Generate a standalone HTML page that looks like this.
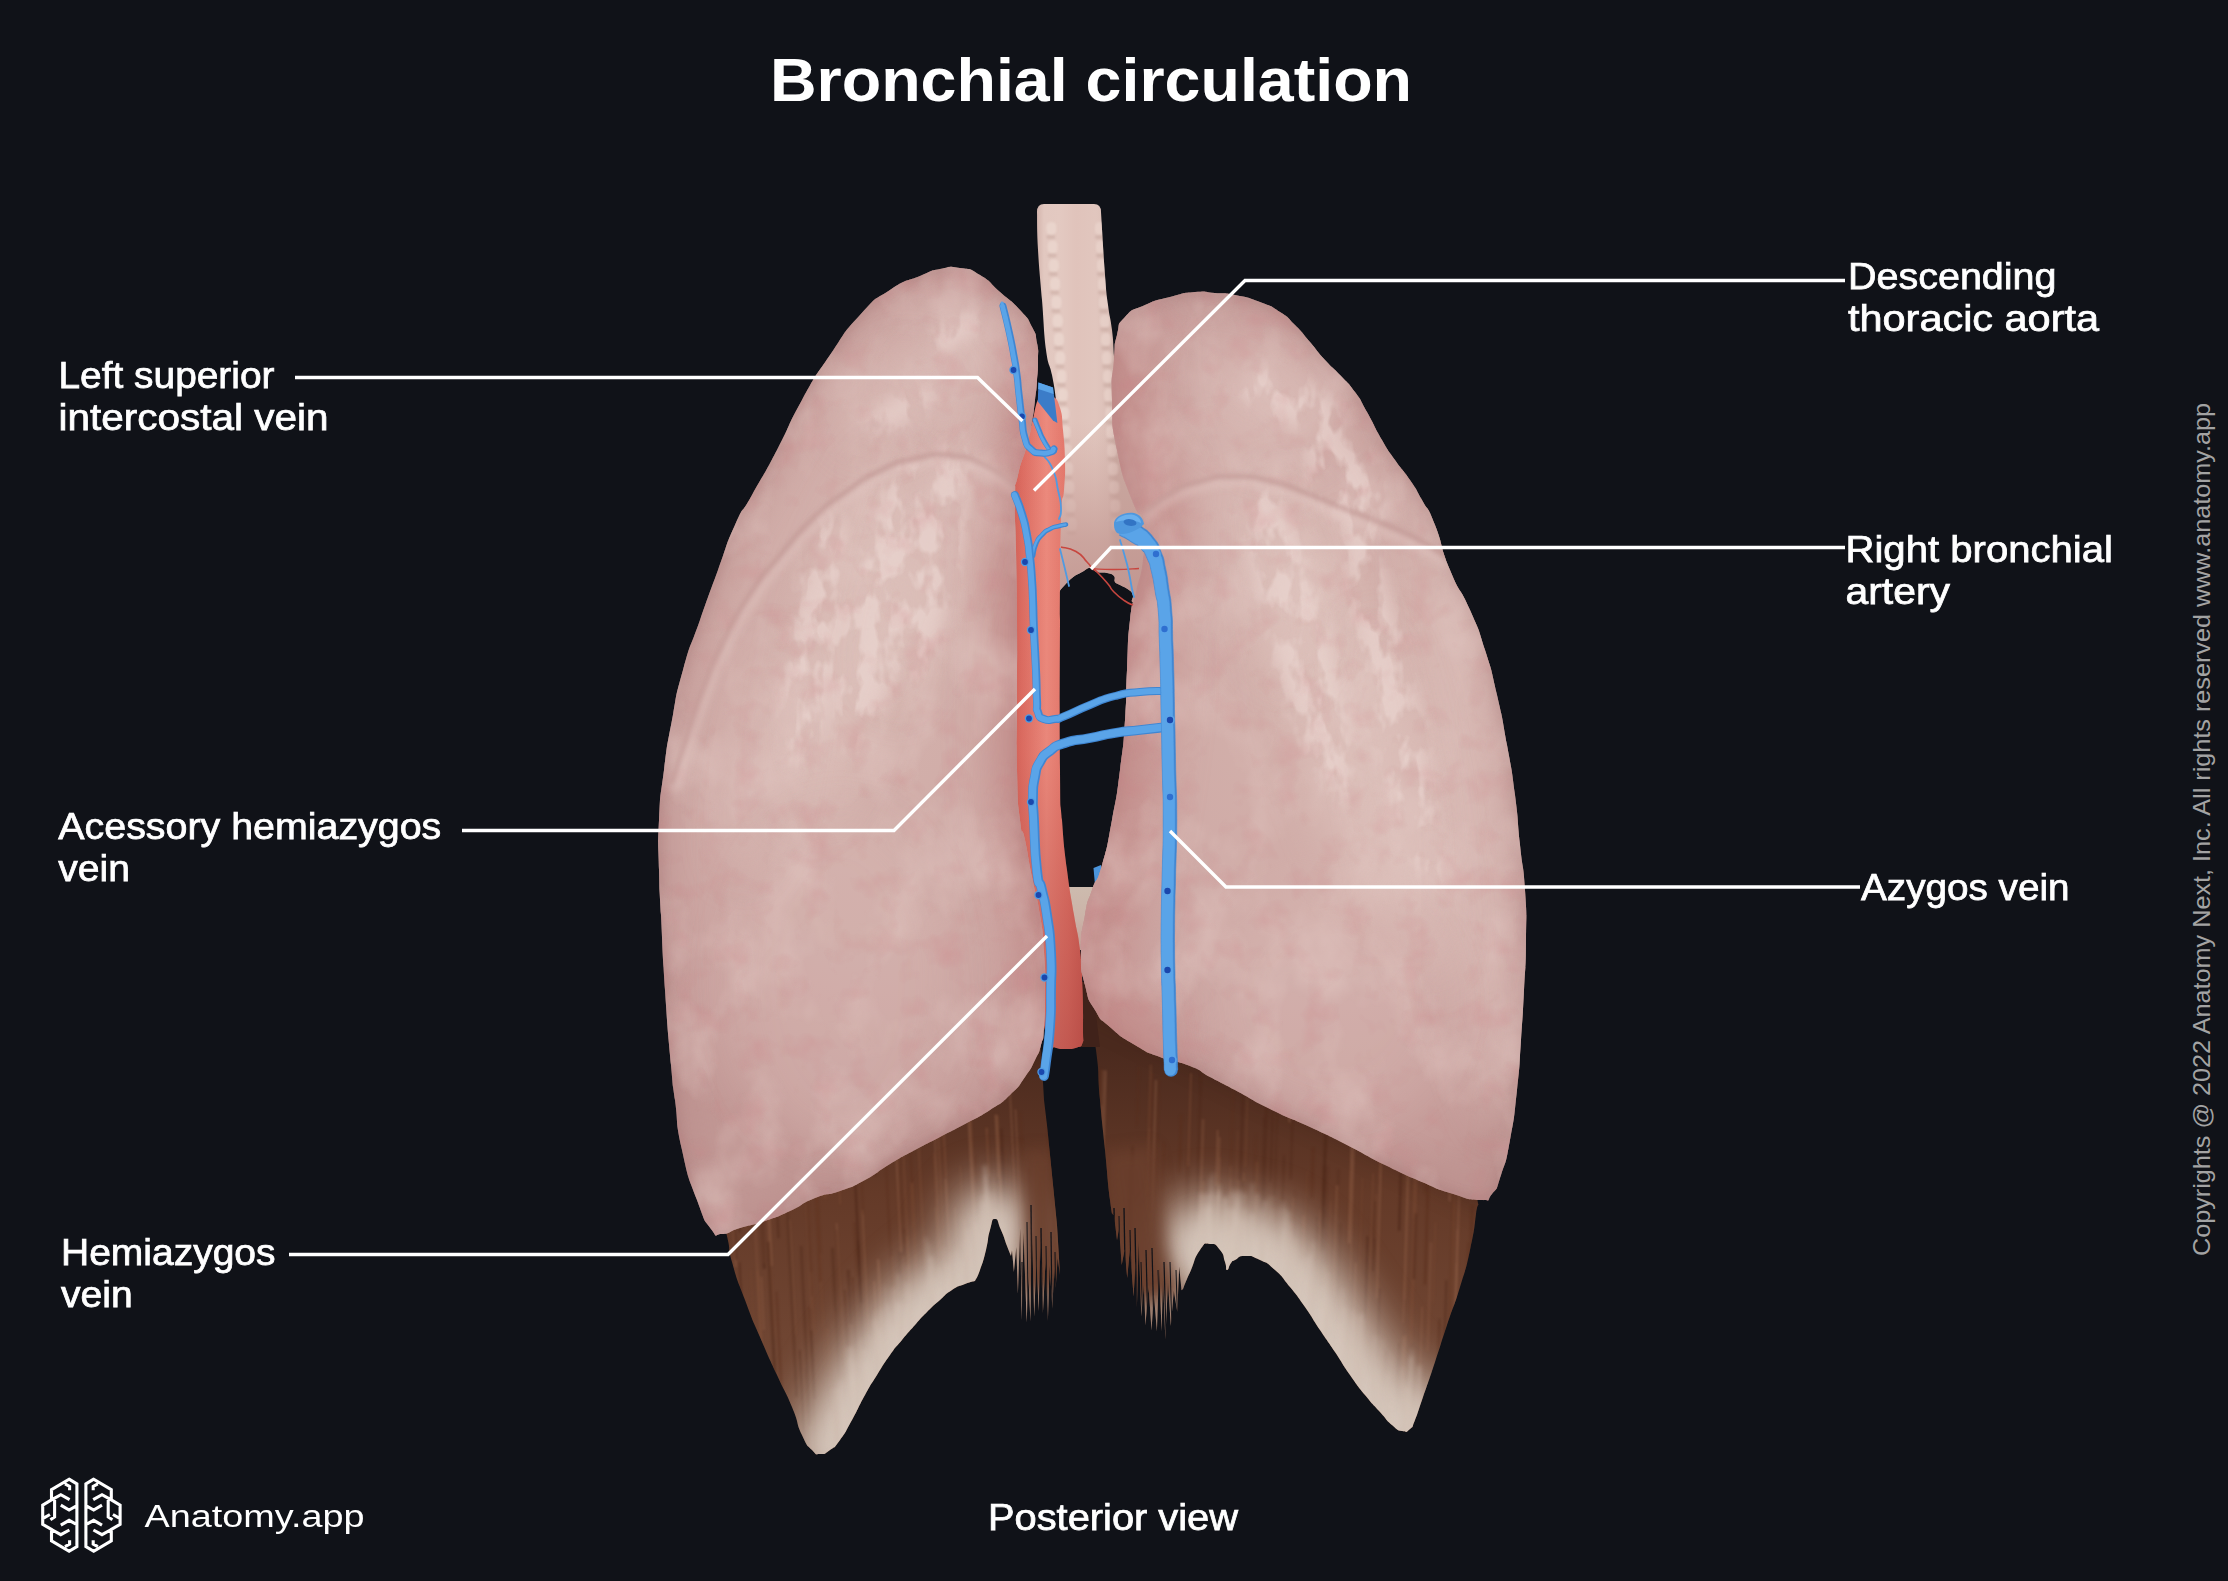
<!DOCTYPE html>
<html lang="en"><head><meta charset="utf-8"><title>Bronchial circulation</title>
<style>
html,body{margin:0;padding:0;background:#101218;}
body{width:2228px;height:1581px;position:relative;overflow:hidden;font-family:"Liberation Sans",sans-serif;}
</style></head><body>
<svg width="2228" height="1581" viewBox="0 0 2228 1581" style="position:absolute;left:0;top:0">
<defs>
<filter id="b4" filterUnits="userSpaceOnUse" x="500" y="100" width="1200" height="1450"><feGaussianBlur color-interpolation-filters="sRGB" stdDeviation="4"/></filter>
<filter id="b8" filterUnits="userSpaceOnUse" x="500" y="100" width="1200" height="1450"><feGaussianBlur color-interpolation-filters="sRGB" stdDeviation="8"/></filter>
<filter id="b14" filterUnits="userSpaceOnUse" x="500" y="100" width="1200" height="1450"><feGaussianBlur color-interpolation-filters="sRGB" stdDeviation="14"/></filter>
<filter id="b22" filterUnits="userSpaceOnUse" x="500" y="100" width="1200" height="1450"><feGaussianBlur color-interpolation-filters="sRGB" stdDeviation="22"/></filter>
<filter id="b40" filterUnits="userSpaceOnUse" x="500" y="100" width="1200" height="1450"><feGaussianBlur color-interpolation-filters="sRGB" stdDeviation="40"/></filter>
<filter id="b2" filterUnits="userSpaceOnUse" x="500" y="100" width="1200" height="1450"><feGaussianBlur color-interpolation-filters="sRGB" stdDeviation="2"/></filter>
<filter id="b1" filterUnits="userSpaceOnUse" x="500" y="100" width="1200" height="1450"><feGaussianBlur color-interpolation-filters="sRGB" stdDeviation="1.2"/></filter>
<filter id="texL" filterUnits="userSpaceOnUse" x="640" y="250" width="900" height="1000" color-interpolation-filters="sRGB">
 <feTurbulence type="fractalNoise" baseFrequency="0.016 0.011" numOctaves="4" seed="11"/>
 <feColorMatrix values="0 0 0 0 0.89  0 0 0 0 0.79  0 0 0 0 0.77  2.6 0 0 0 -1.15"/>
</filter>
<filter id="texR" filterUnits="userSpaceOnUse" x="640" y="250" width="900" height="1000" color-interpolation-filters="sRGB">
 <feTurbulence type="fractalNoise" baseFrequency="0.03 0.03" numOctaves="3" seed="5"/>
 <feColorMatrix values="0 0 0 0 0.80  0 0 0 0 0.50  0 0 0 0 0.52  0 2.4 0 0 -1.25"/>
</filter>
<filter id="spec" filterUnits="userSpaceOnUse" x="640" y="250" width="900" height="1000" color-interpolation-filters="sRGB">
 <feGaussianBlur in="SourceGraphic" stdDeviation="9" result="B"/>
 <feTurbulence type="fractalNoise" baseFrequency="0.05 0.028" numOctaves="3" seed="23" result="T"/>
 <feColorMatrix in="T" values="0 0 0 0 1  0 0 0 0 1  0 0 0 0 1  5.5 0 0 0 -2.35" result="M"/>
 <feComposite in="B" in2="M" operator="in"/>
</filter>
<linearGradient id="gEso" x1="0" x2="0" y1="887" y2="950" gradientUnits="userSpaceOnUse">
 <stop offset="0" stop-color="#cdbbae"/><stop offset="0.5" stop-color="#cbb3a8"/><stop offset="1" stop-color="#c39d96"/>
</linearGradient>
<linearGradient id="gAoV" x1="0" x2="0" y1="396" y2="1047" gradientUnits="userSpaceOnUse">
 <stop offset="0" stop-color="#b24a44" stop-opacity="0"/><stop offset="0.55" stop-color="#b24a44" stop-opacity="0.05"/><stop offset="0.8" stop-color="#b24a44" stop-opacity="0.4"/><stop offset="1" stop-color="#a8423d" stop-opacity="0.55"/>
</linearGradient>
<linearGradient id="gAorta" x1="1006" x2="1084" y1="0" y2="0" gradientUnits="userSpaceOnUse">
 <stop offset="0" stop-color="#c9584f"/><stop offset="0.2" stop-color="#dc6c61"/><stop offset="0.52" stop-color="#ec8a7d"/><stop offset="0.8" stop-color="#e27468"/><stop offset="1" stop-color="#cf5d54"/>
</linearGradient>
<linearGradient id="gTr" x1="1036" x2="1116" y1="0" y2="0" gradientUnits="userSpaceOnUse">
 <stop offset="0" stop-color="#d2b2aa"/><stop offset="0.1" stop-color="#e2c8c0"/><stop offset="0.3" stop-color="#e3c9c1"/><stop offset="0.5" stop-color="#e0c3bb"/><stop offset="0.75" stop-color="#e1c6be"/><stop offset="0.9" stop-color="#dcc0b8"/><stop offset="1" stop-color="#c8a8a0"/>
</linearGradient>
<linearGradient id="gTrV" x1="0" x2="0" y1="204" y2="600" gradientUnits="userSpaceOnUse">
 <stop offset="0" stop-color="#c9a29b" stop-opacity="0"/><stop offset="0.55" stop-color="#c9a29b" stop-opacity="0"/><stop offset="0.85" stop-color="#c49a94" stop-opacity="0.75"/><stop offset="1" stop-color="#c0948e" stop-opacity="0.9"/>
</linearGradient>
<linearGradient id="gDia" x1="0" x2="0" y1="1050" y2="1460" gradientUnits="userSpaceOnUse">
 <stop offset="0" stop-color="#4b2a1e"/><stop offset="0.35" stop-color="#643a28"/><stop offset="0.7" stop-color="#6f4532"/><stop offset="1" stop-color="#77503d"/>
</linearGradient>
<radialGradient id="gLL" cx="870" cy="640" r="540" gradientUnits="userSpaceOnUse" gradientTransform="translate(870,640) scale(0.62,1) translate(-870,-640)">
 <stop offset="0" stop-color="#d4b3ad"/><stop offset="0.55" stop-color="#cfaaa6"/><stop offset="0.85" stop-color="#c9a19e"/><stop offset="1" stop-color="#c19794"/>
</radialGradient>
<radialGradient id="gRL" cx="1320" cy="660" r="540" gradientUnits="userSpaceOnUse" gradientTransform="translate(1320,660) scale(0.66,1) translate(-1320,-660)">
 <stop offset="0" stop-color="#d4b3ad"/><stop offset="0.55" stop-color="#cfaaa6"/><stop offset="0.85" stop-color="#c9a19e"/><stop offset="1" stop-color="#c19794"/>
</radialGradient>

<clipPath id="cLL"><path d="M940.0,269.0C953.3,266.3 946.7,266.0 960.0,268.0C973.3,270.0 966.7,267.0 980.0,275.0C993.3,283.0 986.7,280.3 1000.0,292.0C1013.3,303.7 1009.3,298.3 1020.0,310.0C1030.7,321.7 1026.3,316.0 1032.0,327.0C1037.7,338.0 1035.0,332.0 1037.0,343.0C1039.0,354.0 1038.0,347.3 1038.0,360.0C1038.0,372.7 1038.0,367.7 1037.0,381.0C1036.0,394.3 1036.7,386.3 1035.0,400.0C1033.3,413.7 1034.7,407.0 1032.0,422.0C1029.3,437.0 1031.7,427.3 1027.0,445.0C1022.3,462.7 1022.0,456.7 1018.0,475.0C1014.0,493.3 1015.7,475.0 1015.0,500.0C1014.3,525.0 1015.3,510.0 1016.0,550.0C1016.7,590.0 1016.7,570.0 1017.0,620.0C1017.3,670.0 1017.0,650.0 1017.0,700.0C1017.0,750.0 1016.0,730.0 1017.0,770.0C1018.0,810.0 1017.3,796.7 1020.0,820.0C1022.7,843.3 1021.0,821.0 1025.0,840.0C1029.0,859.0 1027.0,852.0 1032.0,877.0C1037.0,902.0 1036.0,890.0 1040.0,915.0C1044.0,940.0 1042.3,927.0 1044.0,952.0C1045.7,977.0 1045.0,965.0 1045.0,990.0C1045.0,1015.0 1045.3,1008.7 1044.0,1027.0C1042.7,1045.3 1044.0,1034.0 1041.0,1045.0C1038.0,1056.0 1040.3,1049.3 1035.0,1060.0C1029.7,1070.7 1033.3,1065.3 1025.0,1077.0C1016.7,1088.7 1021.7,1084.0 1010.0,1095.0C998.3,1106.0 1005.0,1100.3 990.0,1110.0C975.0,1119.7 981.7,1115.0 965.0,1124.0C948.3,1133.0 956.7,1128.3 940.0,1137.0C923.3,1145.7 931.7,1141.0 915.0,1150.0C898.3,1159.0 906.7,1154.0 890.0,1164.0C873.3,1174.0 881.7,1171.0 865.0,1180.0C848.3,1189.0 856.7,1185.0 840.0,1191.0C823.3,1197.0 831.7,1191.3 815.0,1198.0C798.3,1204.7 806.7,1203.3 790.0,1211.0C773.3,1218.7 781.7,1215.3 765.0,1221.0C748.3,1226.7 754.3,1223.7 740.0,1228.0C725.7,1232.3 731.7,1233.7 722.0,1234.0C712.3,1234.3 719.3,1240.3 711.0,1229.0C702.7,1217.7 706.7,1226.3 697.0,1200.0C687.3,1173.7 689.3,1183.3 682.0,1150.0C674.7,1116.7 678.7,1128.3 675.0,1100.0C671.3,1071.7 674.3,1101.7 671.0,1065.0C667.7,1028.3 668.3,1040.0 665.0,990.0C661.7,940.0 663.0,955.0 661.0,915.0C659.0,875.0 659.7,901.7 659.0,870.0C658.3,838.3 657.3,853.3 659.0,820.0C660.7,786.7 659.7,803.3 664.0,770.0C668.3,736.7 665.7,753.3 672.0,720.0C678.3,686.7 673.7,703.3 683.0,670.0C692.3,636.7 688.3,653.3 700.0,620.0C711.7,586.7 706.3,601.7 718.0,570.0C729.7,538.3 723.7,550.0 735.0,525.0C746.3,500.0 738.0,520.0 752.0,495.0C766.0,470.0 760.3,481.7 777.0,450.0C793.7,418.3 784.3,431.7 802.0,400.0C819.7,368.3 810.7,383.3 830.0,355.0C849.3,326.7 840.0,336.7 860.0,315.0C880.0,293.3 870.0,303.0 890.0,290.0C910.0,277.0 903.3,283.0 920.0,276.0C936.7,269.0 926.7,271.7 940.0,269.0Z"/></clipPath>
<clipPath id="cRL"><path d="M1117.0,335.0C1120.7,320.7 1115.7,327.0 1125.0,317.0C1134.3,307.0 1130.0,311.7 1145.0,305.0C1160.0,298.3 1153.3,301.3 1170.0,297.0C1186.7,292.7 1180.0,293.3 1195.0,292.0C1210.0,290.7 1201.7,292.0 1215.0,293.0C1228.3,294.0 1220.0,292.0 1235.0,295.0C1250.0,298.0 1245.0,296.3 1260.0,302.0C1275.0,307.7 1268.3,304.3 1280.0,312.0C1291.7,319.7 1285.0,315.0 1295.0,325.0C1305.0,335.0 1300.0,330.3 1310.0,342.0C1320.0,353.7 1315.0,349.0 1325.0,360.0C1335.0,371.0 1330.0,364.3 1340.0,375.0C1350.0,385.7 1346.0,379.7 1355.0,392.0C1364.0,404.3 1358.0,396.0 1367.0,412.0C1376.0,428.0 1372.7,424.0 1382.0,440.0C1391.3,456.0 1385.7,446.7 1395.0,460.0C1404.3,473.3 1401.0,466.7 1410.0,480.0C1419.0,493.3 1413.7,485.0 1422.0,500.0C1430.3,515.0 1425.7,501.7 1435.0,525.0C1444.3,548.3 1438.3,541.7 1450.0,570.0C1461.7,598.3 1458.3,583.3 1470.0,610.0C1481.7,636.7 1476.0,621.7 1485.0,650.0C1494.0,678.3 1489.7,663.3 1497.0,695.0C1504.3,726.7 1501.0,711.7 1507.0,745.0C1513.0,778.3 1510.7,761.7 1515.0,795.0C1519.3,828.3 1516.7,813.3 1520.0,845.0C1523.3,876.7 1523.0,858.3 1525.0,890.0C1527.0,921.7 1526.3,906.7 1526.0,940.0C1525.7,973.3 1525.7,956.7 1524.0,990.0C1522.3,1023.3 1523.3,1006.7 1521.0,1040.0C1518.7,1073.3 1520.7,1056.7 1517.0,1090.0C1513.3,1123.3 1515.3,1111.7 1510.0,1140.0C1504.7,1168.3 1507.0,1157.0 1501.0,1175.0C1495.0,1193.0 1499.0,1185.7 1492.0,1194.0C1485.0,1202.3 1494.0,1200.3 1480.0,1200.0C1466.0,1199.7 1469.3,1199.0 1450.0,1193.0C1430.7,1187.0 1443.7,1191.3 1422.0,1182.0C1400.3,1172.7 1410.0,1177.3 1385.0,1165.0C1360.0,1152.7 1372.0,1157.7 1347.0,1145.0C1322.0,1132.3 1335.0,1138.7 1310.0,1127.0C1285.0,1115.3 1297.0,1122.3 1272.0,1110.0C1247.0,1097.7 1255.7,1101.0 1235.0,1090.0C1214.3,1079.0 1225.0,1085.0 1210.0,1077.0C1195.0,1069.0 1206.7,1072.7 1190.0,1066.0C1173.3,1059.3 1178.3,1064.0 1160.0,1057.0C1141.7,1050.0 1151.7,1055.0 1135.0,1045.0C1118.3,1035.0 1123.3,1038.7 1110.0,1027.0C1096.7,1015.3 1103.3,1024.0 1095.0,1010.0C1086.7,996.0 1089.7,1004.3 1085.0,985.0C1080.3,965.7 1081.0,975.3 1081.0,952.0C1081.0,928.7 1081.3,935.7 1085.0,915.0C1088.7,894.3 1086.3,906.7 1092.0,890.0C1097.7,873.3 1095.3,888.3 1102.0,865.0C1108.7,841.7 1106.0,851.7 1112.0,820.0C1118.0,788.3 1115.7,803.3 1120.0,770.0C1124.3,736.7 1122.7,753.3 1125.0,720.0C1127.3,686.7 1125.3,703.3 1127.0,670.0C1128.7,636.7 1127.0,646.0 1130.0,620.0C1133.0,594.0 1131.7,612.0 1136.0,592.0C1140.3,572.0 1140.0,582.3 1143.0,560.0C1146.0,537.7 1148.7,545.0 1145.0,525.0C1141.3,505.0 1141.3,525.0 1132.0,500.0C1122.7,475.0 1123.7,483.3 1117.0,450.0C1110.3,416.7 1113.0,430.0 1112.0,400.0C1111.0,370.0 1112.3,381.7 1114.0,360.0C1115.7,338.3 1113.3,349.3 1117.0,335.0Z"/></clipPath>
<clipPath id="cLD"><path d="M712.0,1180.0C716.7,1197.3 719.3,1204.7 726.0,1232.0C732.7,1259.3 725.7,1239.3 732.0,1262.0C738.3,1284.7 735.7,1275.0 745.0,1300.0C754.3,1325.0 749.3,1312.0 760.0,1337.0C770.7,1362.0 766.3,1351.7 777.0,1375.0C787.7,1398.3 783.7,1387.0 792.0,1407.0C800.3,1427.0 795.3,1420.7 802.0,1435.0C808.7,1449.3 806.0,1443.7 812.0,1450.0C818.0,1456.3 814.0,1454.0 820.0,1454.0C826.0,1454.0 823.3,1454.7 830.0,1450.0C836.7,1445.3 832.7,1450.0 840.0,1440.0C847.3,1430.0 843.7,1435.0 852.0,1420.0C860.3,1405.0 856.7,1410.0 865.0,1395.0C873.3,1380.0 868.7,1388.3 877.0,1375.0C885.3,1361.7 881.7,1366.7 890.0,1355.0C898.3,1343.3 893.7,1350.0 902.0,1340.0C910.3,1330.0 906.7,1334.3 915.0,1325.0C923.3,1315.7 918.7,1320.3 927.0,1312.0C935.3,1303.7 931.7,1307.3 940.0,1300.0C948.3,1292.7 943.7,1295.3 952.0,1290.0C960.3,1284.7 957.3,1287.0 965.0,1284.0C972.7,1281.0 971.7,1282.0 975.0,1281.0C976.7,1277.3 976.3,1280.3 980.0,1270.0C983.7,1259.7 982.7,1263.3 986.0,1250.0C989.3,1236.7 987.0,1240.3 990.0,1230.0C993.0,1219.7 991.3,1219.0 995.0,1219.0C998.7,1219.0 997.0,1221.0 1001.0,1230.0C1005.0,1239.0 1003.7,1237.3 1007.0,1246.0C1010.3,1254.7 1009.7,1252.7 1011.0,1256.0L1012.0,1250.3L1013.9,1272.1L1016.3,1247.0L1017.9,1294.0L1020.2,1228.3L1021.7,1320.8L1023.5,1232.4L1026.7,1322.6L1028.4,1275.9L1030.4,1321.8L1031.8,1221.2L1034.2,1316.7L1036.4,1259.1L1038.7,1311.2L1040.2,1240.8L1042.9,1313.2L1045.6,1260.2L1047.9,1321.0L1049.6,1264.9L1052.4,1308.8L1054.1,1268.2L1055.7,1288.0L1057.6,1257.9L1060.0,1275.0L1057.0,1225.0L1052.0,1175.0L1047.0,1125.0L1044.0,1100.0L1040.0,1030.0L900.0,1100.0Z"/></clipPath>
<clipPath id="cRD"><path d="M1083.0,975.0C1084.7,986.7 1083.7,985.0 1088.0,1010.0C1092.3,1035.0 1092.0,1020.0 1096.0,1050.0C1100.0,1080.0 1097.0,1066.7 1100.0,1100.0C1103.0,1133.3 1101.7,1116.7 1105.0,1150.0C1108.3,1183.3 1107.3,1178.3 1110.0,1200.0C1112.7,1221.7 1112.0,1210.0 1113.0,1215.0L1114.0,1214.7L1117.0,1240.2L1119.0,1227.9L1121.7,1265.1L1124.7,1249.3L1127.2,1278.1L1129.9,1248.3L1133.6,1296.5L1135.5,1261.4L1136.9,1307.4L1138.7,1240.5L1141.3,1316.4L1143.9,1283.9L1145.4,1325.5L1148.6,1286.8L1151.5,1330.6L1153.9,1295.0L1156.9,1331.6L1159.1,1267.6L1161.6,1331.4L1163.0,1277.1L1165.3,1339.4L1168.0,1282.5L1170.8,1325.9L1173.8,1290.8L1177.3,1312.1L1179.2,1266.5L1181.5,1290.3L1183.0,1289.0C1184.3,1285.7 1184.3,1285.3 1187.0,1279.0C1189.7,1272.7 1186.7,1279.7 1191.0,1270.0C1195.3,1260.3 1193.7,1258.7 1200.0,1250.0C1206.3,1241.3 1203.3,1244.0 1210.0,1244.0C1216.7,1244.0 1215.0,1244.0 1220.0,1250.0C1225.0,1256.0 1222.7,1255.3 1225.0,1262.0C1227.3,1268.7 1225.0,1269.7 1227.0,1270.0C1229.0,1270.3 1228.3,1266.3 1231.0,1263.0C1233.7,1259.7 1230.3,1262.3 1235.0,1260.0C1239.7,1257.7 1236.7,1256.0 1245.0,1256.0C1253.3,1256.0 1250.0,1255.3 1260.0,1260.0C1270.0,1264.7 1265.0,1261.0 1275.0,1270.0C1285.0,1279.0 1280.0,1274.7 1290.0,1287.0C1300.0,1299.3 1295.0,1292.7 1305.0,1307.0C1315.0,1321.3 1310.0,1315.0 1320.0,1330.0C1330.0,1345.0 1325.0,1337.0 1335.0,1352.0C1345.0,1367.0 1340.0,1360.7 1350.0,1375.0C1360.0,1389.3 1355.0,1382.7 1365.0,1395.0C1375.0,1407.3 1371.0,1402.0 1380.0,1412.0C1389.0,1422.0 1384.7,1418.7 1392.0,1425.0C1399.3,1431.3 1396.0,1429.7 1402.0,1431.0C1408.0,1432.3 1405.7,1432.7 1410.0,1429.0C1414.3,1425.3 1411.0,1429.7 1415.0,1420.0C1419.0,1410.3 1415.3,1419.3 1422.0,1400.0C1428.7,1380.7 1426.7,1387.0 1435.0,1362.0C1443.3,1337.0 1438.7,1350.0 1447.0,1325.0C1455.3,1300.0 1452.3,1312.0 1460.0,1287.0C1467.7,1262.0 1464.7,1274.3 1470.0,1250.0C1475.3,1225.7 1473.7,1231.3 1476.0,1214.0C1478.3,1196.7 1479.7,1212.7 1477.0,1198.0C1474.3,1183.3 1527.0,1202.7 1468.0,1170.0C1409.0,1137.3 1406.0,1146.7 1300.0,1100.0C1194.0,1053.3 1200.0,1053.3 1150.0,1030.0Z"/></clipPath>
<clipPath id="cTR"><path d="M1101.0,212.0C1101.9,226.7 1103.4,253.3 1105.0,275.0C1106.6,296.7 1106.4,292.2 1108.0,305.0C1109.6,317.8 1110.6,318.1 1112.0,330.0C1113.4,341.9 1113.1,339.7 1114.0,356.0C1114.9,372.3 1113.4,378.1 1116.0,400.0C1118.6,421.9 1119.4,426.7 1125.0,450.0C1130.6,473.3 1133.0,479.0 1140.0,500.0C1147.0,521.0 1151.5,516.0 1155.0,540.0C1158.5,564.0 1159.9,588.3 1155.0,603.0C1150.1,617.7 1139.1,604.9 1134.0,603.0C1128.9,601.1 1134.2,598.0 1133.0,595.0C1131.8,592.0 1132.0,592.3 1129.0,590.0C1126.0,587.7 1123.3,586.9 1120.0,585.0C1116.7,583.1 1116.4,584.1 1115.0,582.0C1113.6,579.9 1115.9,578.1 1114.0,576.0C1112.1,573.9 1111.0,573.9 1107.0,573.0C1103.0,572.1 1101.0,573.2 1097.0,572.0C1093.0,570.8 1093.5,568.0 1090.0,568.0C1086.5,568.0 1086.2,569.7 1082.0,572.0C1077.8,574.3 1076.7,574.3 1072.0,578.0C1067.3,581.7 1067.1,582.9 1062.0,588.0C1056.9,593.1 1054.0,606.5 1050.0,600.0C1046.0,593.5 1045.0,578.7 1045.0,560.0C1045.0,541.3 1047.7,537.5 1050.0,520.0C1052.3,502.5 1053.1,501.1 1055.0,485.0C1056.9,468.9 1057.3,465.0 1058.0,451.0C1058.7,437.0 1058.5,436.9 1058.0,425.0C1057.5,413.1 1057.4,411.7 1056.0,400.0C1054.6,388.3 1054.3,386.7 1052.0,375.0C1049.7,363.3 1048.3,367.5 1046.0,350.0C1043.7,332.5 1043.9,323.3 1042.0,300.0C1040.1,276.7 1039.2,270.5 1038.0,250.0C1036.8,229.5 1037.2,220.9 1037.0,212.0Q1037,204 1044,204L1094,204Q1101,204 1101,212Z"/></clipPath>
</defs>
<g clip-path="url(#cLD)">
<rect x="700" y="1000" width="380" height="480" fill="url(#gDia)"/>
<g filter="url(#b1)"><path d="M776.0,1188.6L778.5,1238.1" stroke="#4b2618" stroke-width="2.3" opacity="0.44"/><path d="M1047.4,1268.0L1050.0,1320.6" stroke="#7a4a33" stroke-width="2.4" opacity="0.30"/><path d="M807.0,1190.7L812.3,1296.3" stroke="#4b2618" stroke-width="1.4" opacity="0.42"/><path d="M1057.3,1229.3L1062.2,1325.4" stroke="#7a4a33" stroke-width="1.4" opacity="0.37"/><path d="M811.3,1330.4L814.8,1399.4" stroke="#4b2618" stroke-width="1.6" opacity="0.58"/><path d="M844.8,1290.1L855.0,1494.7" stroke="#5a2f1d" stroke-width="3.2" opacity="0.55"/><path d="M960.2,1165.7L965.5,1271.7" stroke="#7a4a33" stroke-width="1.9" opacity="0.33"/><path d="M906.8,1235.8L914.6,1390.3" stroke="#7a4a33" stroke-width="2.8" opacity="0.54"/><path d="M975.3,1155.8L981.9,1288.9" stroke="#5a2f1d" stroke-width="2.7" opacity="0.60"/><path d="M992.6,1226.9L996.3,1301.8" stroke="#5a2f1d" stroke-width="2.1" opacity="0.58"/><path d="M1060.9,1367.0L1066.2,1472.6" stroke="#7a4a33" stroke-width="1.4" opacity="0.41"/><path d="M836.5,1230.0L847.4,1447.3" stroke="#4b2618" stroke-width="2.2" opacity="0.48"/><path d="M995.9,1114.6L1003.8,1273.5" stroke="#8a5a42" stroke-width="2.8" opacity="0.51"/><path d="M884.9,1141.8L894.0,1323.8" stroke="#5a2f1d" stroke-width="1.4" opacity="0.58"/><path d="M969.0,1224.3L977.7,1398.1" stroke="#4b2618" stroke-width="2.6" opacity="0.31"/><path d="M763.8,1133.8L774.0,1336.7" stroke="#7a4a33" stroke-width="2.4" opacity="0.46"/><path d="M883.7,1361.9L887.1,1429.9" stroke="#7a4a33" stroke-width="1.2" opacity="0.53"/><path d="M970.6,1119.8L979.3,1294.7" stroke="#7a4a33" stroke-width="2.1" opacity="0.56"/><path d="M1005.0,1151.2L1009.3,1236.5" stroke="#5a2f1d" stroke-width="2.2" opacity="0.52"/><path d="M832.5,1247.9L842.0,1438.0" stroke="#4b2618" stroke-width="3.0" opacity="0.37"/><path d="M878.1,1259.2L888.2,1461.9" stroke="#8a5a42" stroke-width="2.9" opacity="0.56"/><path d="M765.1,1134.0L771.7,1265.9" stroke="#8a5a42" stroke-width="2.8" opacity="0.46"/><path d="M987.7,1133.4L991.0,1198.9" stroke="#4b2618" stroke-width="2.3" opacity="0.36"/><path d="M898.8,1251.1L907.9,1432.2" stroke="#4b2618" stroke-width="3.0" opacity="0.27"/><path d="M786.0,1102.2L788.9,1159.8" stroke="#8a5a42" stroke-width="2.3" opacity="0.52"/><path d="M1034.8,1218.5L1042.3,1368.8" stroke="#7a4a33" stroke-width="2.6" opacity="0.41"/><path d="M904.0,1228.6L914.5,1438.1" stroke="#5a2f1d" stroke-width="3.0" opacity="0.56"/><path d="M789.9,1219.8L795.6,1334.8" stroke="#8a5a42" stroke-width="2.1" opacity="0.28"/><path d="M803.0,1111.2L811.0,1271.7" stroke="#4b2618" stroke-width="3.0" opacity="0.30"/><path d="M967.1,1281.5L970.3,1347.2" stroke="#7a4a33" stroke-width="3.1" opacity="0.33"/><path d="M1048.6,1205.5L1055.0,1333.2" stroke="#7a4a33" stroke-width="1.5" opacity="0.40"/><path d="M897.9,1188.3L901.6,1263.6" stroke="#5a2f1d" stroke-width="1.4" opacity="0.38"/><path d="M836.6,1223.0L844.9,1389.6" stroke="#8a5a42" stroke-width="1.9" opacity="0.47"/><path d="M896.7,1108.6L907.6,1326.0" stroke="#7a4a33" stroke-width="3.1" opacity="0.29"/><path d="M811.6,1101.5L820.6,1281.7" stroke="#5a2f1d" stroke-width="2.7" opacity="0.54"/><path d="M1013.1,1286.0L1023.6,1496.3" stroke="#8a5a42" stroke-width="1.5" opacity="0.57"/><path d="M916.9,1293.1L919.7,1349.2" stroke="#4b2618" stroke-width="2.8" opacity="0.31"/><path d="M1028.9,1168.0L1031.0,1211.0" stroke="#4b2618" stroke-width="2.8" opacity="0.28"/><path d="M1015.4,1109.3L1025.2,1304.6" stroke="#8a5a42" stroke-width="1.2" opacity="0.60"/><path d="M864.1,1355.5L871.7,1507.4" stroke="#4b2618" stroke-width="2.3" opacity="0.33"/><path d="M757.8,1136.8L760.2,1185.9" stroke="#7a4a33" stroke-width="3.1" opacity="0.47"/><path d="M903.2,1149.7L909.2,1269.9" stroke="#7a4a33" stroke-width="1.7" opacity="0.53"/><path d="M1063.1,1100.7L1065.3,1144.0" stroke="#7a4a33" stroke-width="2.2" opacity="0.34"/><path d="M874.2,1280.9L882.1,1437.9" stroke="#8a5a42" stroke-width="2.3" opacity="0.56"/><path d="M1054.8,1179.3L1058.7,1258.0" stroke="#7a4a33" stroke-width="1.9" opacity="0.54"/><path d="M963.8,1274.4L969.5,1387.3" stroke="#5a2f1d" stroke-width="3.2" opacity="0.54"/><path d="M724.9,1271.4L734.8,1469.8" stroke="#8a5a42" stroke-width="1.5" opacity="0.28"/><path d="M1010.2,1342.5L1018.3,1503.2" stroke="#5a2f1d" stroke-width="2.4" opacity="0.49"/><path d="M735.6,1143.8L740.0,1232.2" stroke="#4b2618" stroke-width="1.7" opacity="0.59"/><path d="M1055.6,1248.7L1059.8,1332.7" stroke="#5a2f1d" stroke-width="1.6" opacity="0.31"/><path d="M835.7,1114.3L840.2,1204.5" stroke="#7a4a33" stroke-width="1.7" opacity="0.52"/><path d="M751.3,1326.9L754.6,1392.8" stroke="#4b2618" stroke-width="2.0" opacity="0.35"/><path d="M937.2,1114.5L947.9,1326.9" stroke="#7a4a33" stroke-width="2.5" opacity="0.50"/><path d="M1023.3,1203.0L1028.2,1301.7" stroke="#8a5a42" stroke-width="1.5" opacity="0.50"/><path d="M941.9,1102.7L951.4,1293.1" stroke="#8a5a42" stroke-width="2.7" opacity="0.53"/><path d="M768.1,1241.9L774.6,1372.7" stroke="#4b2618" stroke-width="2.9" opacity="0.45"/><path d="M1028.0,1288.0L1036.3,1452.8" stroke="#7a4a33" stroke-width="1.4" opacity="0.26"/><path d="M939.8,1368.3L945.2,1476.1" stroke="#8a5a42" stroke-width="2.3" opacity="0.47"/><path d="M936.0,1287.4L942.5,1415.5" stroke="#4b2618" stroke-width="2.1" opacity="0.27"/><path d="M1041.7,1350.4L1044.5,1406.9" stroke="#4b2618" stroke-width="2.7" opacity="0.42"/><path d="M999.2,1335.4L1003.3,1417.6" stroke="#7a4a33" stroke-width="1.7" opacity="0.48"/><path d="M878.8,1335.2L881.5,1389.0" stroke="#5a2f1d" stroke-width="2.7" opacity="0.47"/><path d="M941.8,1112.5L945.1,1179.0" stroke="#5a2f1d" stroke-width="2.5" opacity="0.49"/><path d="M934.3,1128.7L940.6,1255.5" stroke="#8a5a42" stroke-width="1.7" opacity="0.49"/><path d="M958.8,1286.0L963.4,1378.3" stroke="#5a2f1d" stroke-width="2.1" opacity="0.41"/><path d="M760.9,1349.2L764.7,1425.0" stroke="#4b2618" stroke-width="3.1" opacity="0.26"/><path d="M878.3,1327.8L889.1,1542.0" stroke="#8a5a42" stroke-width="3.2" opacity="0.39"/><path d="M1036.2,1359.9L1038.9,1413.3" stroke="#4b2618" stroke-width="1.5" opacity="0.43"/><path d="M1048.7,1128.5L1058.1,1316.1" stroke="#5a2f1d" stroke-width="3.0" opacity="0.50"/><path d="M799.8,1350.3L806.2,1477.8" stroke="#4b2618" stroke-width="1.5" opacity="0.58"/><path d="M955.1,1207.6L963.7,1378.5" stroke="#8a5a42" stroke-width="1.9" opacity="0.36"/><path d="M1009.9,1090.5L1018.6,1265.6" stroke="#8a5a42" stroke-width="1.4" opacity="0.57"/><path d="M966.0,1351.5L970.6,1443.6" stroke="#5a2f1d" stroke-width="1.3" opacity="0.39"/><path d="M1020.1,1112.2L1030.5,1318.7" stroke="#5a2f1d" stroke-width="2.9" opacity="0.35"/><path d="M737.8,1282.0L745.5,1436.3" stroke="#7a4a33" stroke-width="1.7" opacity="0.34"/><path d="M896.3,1145.1L901.6,1252.3" stroke="#8a5a42" stroke-width="3.0" opacity="0.53"/><path d="M937.7,1354.9L948.1,1564.2" stroke="#7a4a33" stroke-width="2.6" opacity="0.27"/><path d="M972.7,1220.7L981.4,1396.2" stroke="#5a2f1d" stroke-width="2.2" opacity="0.57"/><path d="M909.8,1139.5L915.5,1254.2" stroke="#5a2f1d" stroke-width="1.8" opacity="0.51"/><path d="M1056.8,1165.4L1064.7,1323.5" stroke="#5a2f1d" stroke-width="2.2" opacity="0.48"/><path d="M761.3,1276.5L764.0,1330.1" stroke="#8a5a42" stroke-width="2.3" opacity="0.41"/><path d="M834.8,1310.2L840.7,1427.1" stroke="#7a4a33" stroke-width="1.7" opacity="0.31"/><path d="M911.8,1182.6L917.1,1288.9" stroke="#7a4a33" stroke-width="3.0" opacity="0.51"/><path d="M862.4,1210.0L869.1,1344.4" stroke="#8a5a42" stroke-width="1.7" opacity="0.51"/><path d="M891.9,1256.5L897.1,1361.4" stroke="#7a4a33" stroke-width="1.4" opacity="0.56"/><path d="M852.7,1277.3L858.6,1395.0" stroke="#5a2f1d" stroke-width="2.9" opacity="0.56"/><path d="M727.5,1099.4L735.9,1267.1" stroke="#8a5a42" stroke-width="3.1" opacity="0.42"/><path d="M745.2,1359.8L755.6,1566.8" stroke="#8a5a42" stroke-width="3.1" opacity="0.34"/><path d="M757.6,1134.8L764.3,1268.8" stroke="#4b2618" stroke-width="3.1" opacity="0.50"/><path d="M943.3,1311.8L949.5,1434.1" stroke="#4b2618" stroke-width="1.2" opacity="0.29"/><path d="M916.4,1100.9L924.9,1269.6" stroke="#7a4a33" stroke-width="2.5" opacity="0.43"/><path d="M870.9,1311.5L873.8,1369.4" stroke="#5a2f1d" stroke-width="2.2" opacity="0.45"/><path d="M853.9,1154.8L861.3,1303.0" stroke="#4b2618" stroke-width="2.3" opacity="0.60"/><path d="M816.1,1181.7L825.7,1372.8" stroke="#7a4a33" stroke-width="2.2" opacity="0.33"/><path d="M805.2,1368.6L813.6,1535.4" stroke="#5a2f1d" stroke-width="1.3" opacity="0.32"/><path d="M1025.3,1277.7L1028.0,1332.3" stroke="#7a4a33" stroke-width="2.5" opacity="0.57"/><path d="M798.2,1099.9L803.3,1200.7" stroke="#8a5a42" stroke-width="1.9" opacity="0.39"/><path d="M722.3,1174.7L731.9,1366.8" stroke="#4b2618" stroke-width="1.6" opacity="0.59"/><path d="M827.5,1327.8L831.6,1409.3" stroke="#7a4a33" stroke-width="1.7" opacity="0.56"/><path d="M757.6,1270.8L765.1,1420.7" stroke="#7a4a33" stroke-width="2.2" opacity="0.57"/><path d="M739.5,1262.5L749.8,1468.4" stroke="#4b2618" stroke-width="1.6" opacity="0.59"/><path d="M769.0,1105.0L771.5,1155.9" stroke="#8a5a42" stroke-width="2.1" opacity="0.50"/><path d="M828.4,1122.8L831.1,1177.1" stroke="#7a4a33" stroke-width="1.9" opacity="0.31"/><path d="M1042.9,1306.4L1045.2,1352.2" stroke="#8a5a42" stroke-width="2.9" opacity="0.59"/><path d="M872.6,1121.6L875.3,1175.7" stroke="#4b2618" stroke-width="1.9" opacity="0.58"/><path d="M762.7,1369.6L766.5,1447.0" stroke="#5a2f1d" stroke-width="2.7" opacity="0.36"/><path d="M997.4,1115.5L1005.7,1282.4" stroke="#7a4a33" stroke-width="1.9" opacity="0.57"/><path d="M786.6,1195.6L796.7,1397.1" stroke="#4b2618" stroke-width="2.5" opacity="0.34"/><path d="M935.8,1207.4L941.1,1315.0" stroke="#8a5a42" stroke-width="1.3" opacity="0.57"/><path d="M808.7,1306.7L818.8,1508.5" stroke="#5a2f1d" stroke-width="1.9" opacity="0.37"/><path d="M1049.0,1102.6L1057.8,1277.0" stroke="#5a2f1d" stroke-width="3.0" opacity="0.35"/><path d="M968.9,1262.7L978.2,1447.7" stroke="#4b2618" stroke-width="1.2" opacity="0.33"/><path d="M883.9,1367.5L894.5,1579.2" stroke="#8a5a42" stroke-width="2.8" opacity="0.57"/><path d="M1001.1,1128.5L1007.6,1257.9" stroke="#4b2618" stroke-width="2.8" opacity="0.51"/><path d="M1003.9,1314.1L1011.3,1463.4" stroke="#5a2f1d" stroke-width="2.9" opacity="0.41"/><path d="M990.4,1262.8L997.0,1394.9" stroke="#8a5a42" stroke-width="2.7" opacity="0.34"/><path d="M742.3,1099.8L749.3,1239.3" stroke="#5a2f1d" stroke-width="1.5" opacity="0.40"/><path d="M756.3,1110.9L763.9,1263.4" stroke="#7a4a33" stroke-width="1.4" opacity="0.42"/><path d="M964.9,1219.6L969.0,1301.8" stroke="#8a5a42" stroke-width="2.1" opacity="0.56"/><path d="M801.1,1246.2L810.0,1425.5" stroke="#4b2618" stroke-width="2.8" opacity="0.35"/><path d="M816.4,1167.6L820.7,1253.4" stroke="#5a2f1d" stroke-width="1.6" opacity="0.34"/><path d="M804.6,1134.5L814.6,1333.6" stroke="#7a4a33" stroke-width="1.9" opacity="0.39"/><path d="M1062.4,1237.1L1066.5,1318.8" stroke="#4b2618" stroke-width="2.5" opacity="0.60"/><path d="M755.3,1227.7L764.7,1415.1" stroke="#8a5a42" stroke-width="3.0" opacity="0.26"/><path d="M821.3,1124.6L825.0,1198.7" stroke="#7a4a33" stroke-width="3.1" opacity="0.38"/><path d="M1018.8,1220.2L1023.2,1307.0" stroke="#4b2618" stroke-width="1.4" opacity="0.46"/><path d="M933.9,1153.1L939.2,1259.5" stroke="#7a4a33" stroke-width="1.3" opacity="0.60"/><path d="M733.2,1302.3L743.4,1506.9" stroke="#4b2618" stroke-width="2.8" opacity="0.39"/><path d="M848.3,1270.1L851.0,1324.1" stroke="#4b2618" stroke-width="2.8" opacity="0.44"/><path d="M741.8,1119.4L747.4,1230.6" stroke="#7a4a33" stroke-width="2.5" opacity="0.28"/><path d="M776.5,1291.7L782.2,1405.4" stroke="#5a2f1d" stroke-width="2.5" opacity="0.40"/><path d="M737.7,1306.1L747.7,1505.2" stroke="#8a5a42" stroke-width="2.0" opacity="0.55"/><path d="M1063.8,1195.5L1067.6,1271.0" stroke="#8a5a42" stroke-width="1.6" opacity="0.25"/><path d="M1031.1,1212.9L1040.4,1400.6" stroke="#8a5a42" stroke-width="2.4" opacity="0.38"/><path d="M986.7,1127.7L989.2,1177.0" stroke="#7a4a33" stroke-width="2.5" opacity="0.57"/><path d="M750.7,1270.4L756.1,1377.2" stroke="#7a4a33" stroke-width="1.5" opacity="0.35"/><path d="M899.8,1358.4L902.8,1418.0" stroke="#8a5a42" stroke-width="2.7" opacity="0.53"/><path d="M997.6,1177.5L1007.2,1368.2" stroke="#4b2618" stroke-width="3.2" opacity="0.42"/><path d="M738.4,1358.6L743.9,1468.4" stroke="#7a4a33" stroke-width="2.5" opacity="0.55"/><path d="M934.3,1268.3L938.0,1343.6" stroke="#8a5a42" stroke-width="1.6" opacity="0.33"/><path d="M857.9,1240.2L863.4,1349.2" stroke="#4b2618" stroke-width="1.5" opacity="0.59"/><path d="M1001.4,1145.9L1011.4,1344.9" stroke="#4b2618" stroke-width="2.5" opacity="0.36"/><path d="M854.5,1222.2L864.1,1415.0" stroke="#5a2f1d" stroke-width="2.5" opacity="0.36"/><path d="M806.0,1202.9L811.3,1309.0" stroke="#8a5a42" stroke-width="1.6" opacity="0.25"/><path d="M1060.2,1224.9L1066.2,1345.4" stroke="#8a5a42" stroke-width="2.9" opacity="0.53"/><path d="M858.1,1109.5L863.3,1214.0" stroke="#5a2f1d" stroke-width="1.4" opacity="0.40"/><path d="M896.0,1101.8L903.7,1256.4" stroke="#4b2618" stroke-width="3.0" opacity="0.36"/><path d="M968.5,1113.2L977.3,1288.6" stroke="#8a5a42" stroke-width="2.5" opacity="0.52"/><path d="M728.9,1109.3L736.4,1259.8" stroke="#4b2618" stroke-width="1.6" opacity="0.59"/><path d="M889.7,1367.4L899.9,1572.3" stroke="#7a4a33" stroke-width="2.6" opacity="0.50"/></g>
<path d="M835.0,1450.0C840.7,1439.3 840.3,1439.3 852.0,1418.0C863.7,1396.7 856.3,1408.0 870.0,1386.0C883.7,1364.0 876.3,1374.0 893.0,1352.0C909.7,1330.0 901.0,1339.3 920.0,1320.0C939.0,1300.7 930.7,1307.3 950.0,1294.0C969.3,1280.7 965.7,1294.7 978.0,1280.0C990.3,1265.3 981.7,1268.0 987.0,1250.0C992.3,1232.0 991.7,1234.0 994.0,1226.0" fill="none" stroke="#c9b7ab" stroke-width="92" stroke-linecap="round" stroke-linejoin="round" filter="url(#b22)" opacity="0.95"/>
<path d="M835.0,1450.0C840.7,1439.3 840.3,1439.3 852.0,1418.0C863.7,1396.7 856.3,1408.0 870.0,1386.0C883.7,1364.0 876.3,1374.0 893.0,1352.0C909.7,1330.0 901.0,1339.3 920.0,1320.0C939.0,1300.7 930.7,1307.3 950.0,1294.0C969.3,1280.7 965.7,1294.7 978.0,1280.0C990.3,1265.3 981.7,1268.0 987.0,1250.0C992.3,1232.0 991.7,1234.0 994.0,1226.0" fill="none" stroke="#d6c7bc" stroke-width="44" stroke-linecap="round" stroke-linejoin="round" filter="url(#b14)"/>
<g filter="url(#b2)" stroke-linecap="round"><path d="M878.1,1324.3L880.3,1365.9" stroke="#cbb7aa" stroke-width="2.4" opacity="0.30"/><path d="M907.9,1292.2L910.5,1339.0" stroke="#cbb7aa" stroke-width="3.3" opacity="0.30"/><path d="M879.7,1316.3L882.7,1371.1" stroke="#d8c8bc" stroke-width="2.8" opacity="0.13"/><path d="M873.6,1321.3L876.7,1377.1" stroke="#cbb7aa" stroke-width="3.7" opacity="0.30"/><path d="M875.0,1347.1L877.0,1384.3" stroke="#d2c2b6" stroke-width="2.1" opacity="0.29"/><path d="M967.9,1238.0L970.8,1291.0" stroke="#d8c8bc" stroke-width="2.6" opacity="0.23"/><path d="M950.5,1255.4L952.9,1298.0" stroke="#cbb7aa" stroke-width="4.5" opacity="0.24"/><path d="M933.1,1279.3L934.5,1307.3" stroke="#d8c8bc" stroke-width="2.4" opacity="0.27"/><path d="M837.4,1389.6L840.2,1439.4" stroke="#cbb7aa" stroke-width="3.6" opacity="0.32"/><path d="M992.4,1171.3L996.2,1240.1" stroke="#d2c2b6" stroke-width="2.0" opacity="0.13"/><path d="M860.9,1340.4L864.0,1395.7" stroke="#cbb7aa" stroke-width="3.3" opacity="0.30"/><path d="M857.9,1350.0L861.0,1404.6" stroke="#d8c8bc" stroke-width="2.1" opacity="0.12"/><path d="M929.8,1258.6L932.5,1308.8" stroke="#d2c2b6" stroke-width="2.6" opacity="0.24"/><path d="M984.9,1195.9L987.2,1238.2" stroke="#cbb7aa" stroke-width="2.4" opacity="0.12"/><path d="M897.2,1303.7L899.8,1350.3" stroke="#d8c8bc" stroke-width="3.6" opacity="0.29"/><path d="M901.1,1303.6L903.1,1340.8" stroke="#d8c8bc" stroke-width="2.1" opacity="0.28"/><path d="M931.4,1257.4L934.3,1310.3" stroke="#d2c2b6" stroke-width="4.3" opacity="0.27"/><path d="M892.1,1326.3L893.3,1350.3" stroke="#d8c8bc" stroke-width="3.3" opacity="0.20"/><path d="M885.0,1286.4L888.9,1356.0" stroke="#d8c8bc" stroke-width="2.0" opacity="0.23"/><path d="M874.3,1339.0L876.1,1373.0" stroke="#d2c2b6" stroke-width="3.6" opacity="0.25"/><path d="M964.3,1259.1L966.0,1291.9" stroke="#cbb7aa" stroke-width="2.2" opacity="0.25"/><path d="M982.5,1255.8L983.7,1280.1" stroke="#cbb7aa" stroke-width="3.9" opacity="0.21"/><path d="M962.1,1217.1L966.3,1291.0" stroke="#cbb7aa" stroke-width="2.6" opacity="0.13"/><path d="M929.3,1244.9L933.3,1315.2" stroke="#cbb7aa" stroke-width="3.8" opacity="0.17"/><path d="M985.9,1195.7L989.2,1254.0" stroke="#d2c2b6" stroke-width="4.4" opacity="0.18"/><path d="M875.6,1319.5L878.3,1368.9" stroke="#d8c8bc" stroke-width="2.7" opacity="0.17"/><path d="M882.3,1311.7L885.7,1373.0" stroke="#cbb7aa" stroke-width="2.5" opacity="0.20"/><path d="M985.0,1167.3L988.9,1236.7" stroke="#d2c2b6" stroke-width="4.3" opacity="0.32"/><path d="M981.1,1196.6L984.8,1262.6" stroke="#d2c2b6" stroke-width="2.0" opacity="0.13"/><path d="M887.4,1322.3L889.5,1361.7" stroke="#d8c8bc" stroke-width="3.0" opacity="0.24"/><path d="M992.8,1214.1L994.5,1245.4" stroke="#d8c8bc" stroke-width="2.3" opacity="0.24"/><path d="M866.5,1358.9L868.1,1390.0" stroke="#d8c8bc" stroke-width="2.1" opacity="0.15"/><path d="M840.2,1381.2L843.6,1442.0" stroke="#d8c8bc" stroke-width="4.1" opacity="0.27"/><path d="M880.5,1308.0L884.2,1373.0" stroke="#d2c2b6" stroke-width="2.2" opacity="0.29"/><path d="M938.4,1267.2L940.3,1301.4" stroke="#d8c8bc" stroke-width="2.1" opacity="0.31"/><path d="M855.8,1360.9L858.9,1416.5" stroke="#cbb7aa" stroke-width="3.2" opacity="0.15"/><path d="M877.0,1330.3L879.2,1371.1" stroke="#cbb7aa" stroke-width="2.1" opacity="0.17"/><path d="M898.2,1275.3L901.7,1337.3" stroke="#cbb7aa" stroke-width="3.9" opacity="0.24"/><path d="M979.2,1229.1L982.2,1284.0" stroke="#d8c8bc" stroke-width="4.0" opacity="0.13"/><path d="M986.1,1226.8L988.4,1268.1" stroke="#d2c2b6" stroke-width="2.1" opacity="0.23"/><path d="M853.8,1378.2L855.9,1416.5" stroke="#cbb7aa" stroke-width="2.0" opacity="0.16"/><path d="M834.0,1390.9L836.7,1439.4" stroke="#cbb7aa" stroke-width="3.7" opacity="0.29"/><path d="M981.4,1202.6L985.5,1274.5" stroke="#d2c2b6" stroke-width="2.7" opacity="0.31"/><path d="M906.9,1266.4L910.9,1337.3" stroke="#d8c8bc" stroke-width="3.2" opacity="0.14"/><path d="M847.7,1348.4L851.9,1422.0" stroke="#d2c2b6" stroke-width="4.0" opacity="0.25"/><path d="M926.0,1238.3L930.0,1308.8" stroke="#d2c2b6" stroke-width="2.2" opacity="0.30"/><path d="M835.3,1407.3L837.4,1446.4" stroke="#cbb7aa" stroke-width="4.3" opacity="0.22"/><path d="M944.0,1248.4L947.1,1304.0" stroke="#cbb7aa" stroke-width="2.3" opacity="0.24"/><path d="M992.0,1193.9L994.2,1235.3" stroke="#cbb7aa" stroke-width="3.3" opacity="0.29"/><path d="M968.7,1229.9L972.1,1291.0" stroke="#d8c8bc" stroke-width="3.2" opacity="0.26"/><path d="M899.8,1315.8L901.3,1346.1" stroke="#cbb7aa" stroke-width="3.6" opacity="0.26"/><path d="M979.2,1233.2L981.3,1272.3" stroke="#d2c2b6" stroke-width="4.1" opacity="0.24"/><path d="M868.8,1335.5L872.2,1395.7" stroke="#d2c2b6" stroke-width="3.3" opacity="0.15"/><path d="M928.4,1282.0L930.4,1318.9" stroke="#d2c2b6" stroke-width="4.5" opacity="0.15"/><path d="M853.1,1378.3L854.8,1409.8" stroke="#d8c8bc" stroke-width="4.0" opacity="0.27"/><path d="M962.4,1262.0L963.9,1291.5" stroke="#d8c8bc" stroke-width="2.7" opacity="0.30"/><path d="M966.8,1243.6L969.1,1287.6" stroke="#cbb7aa" stroke-width="3.7" opacity="0.22"/><path d="M990.3,1204.9L991.6,1230.0" stroke="#cbb7aa" stroke-width="3.5" opacity="0.20"/><path d="M899.7,1304.8L902.2,1350.3" stroke="#d2c2b6" stroke-width="3.5" opacity="0.25"/><path d="M887.5,1305.1L890.7,1361.7" stroke="#d2c2b6" stroke-width="3.8" opacity="0.29"/><path d="M877.0,1330.4L879.5,1377.1" stroke="#cbb7aa" stroke-width="2.6" opacity="0.26"/><path d="M956.8,1247.9L959.2,1291.9" stroke="#d2c2b6" stroke-width="3.6" opacity="0.17"/><path d="M963.2,1266.6L964.4,1291.5" stroke="#cbb7aa" stroke-width="3.3" opacity="0.25"/><path d="M880.4,1336.7L882.6,1377.1" stroke="#d8c8bc" stroke-width="3.0" opacity="0.22"/><path d="M850.1,1358.7L852.9,1409.8" stroke="#d8c8bc" stroke-width="3.8" opacity="0.31"/><path d="M879.1,1343.9L880.6,1373.0" stroke="#d2c2b6" stroke-width="3.1" opacity="0.16"/><path d="M975.0,1228.0L978.1,1284.0" stroke="#cbb7aa" stroke-width="3.3" opacity="0.20"/><path d="M965.5,1231.6L968.7,1289.8" stroke="#cbb7aa" stroke-width="3.3" opacity="0.31"/><path d="M989.8,1207.0L991.2,1233.8" stroke="#cbb7aa" stroke-width="3.0" opacity="0.13"/><path d="M845.4,1382.8L847.9,1427.8" stroke="#d2c2b6" stroke-width="3.7" opacity="0.24"/><path d="M851.7,1348.8L855.1,1409.8" stroke="#d2c2b6" stroke-width="4.4" opacity="0.32"/><path d="M947.9,1265.8L949.5,1298.0" stroke="#d8c8bc" stroke-width="4.0" opacity="0.25"/><path d="M976.3,1224.0L979.7,1284.0" stroke="#d8c8bc" stroke-width="2.9" opacity="0.25"/><path d="M956.7,1254.1L958.8,1292.8" stroke="#d2c2b6" stroke-width="3.6" opacity="0.28"/><path d="M972.5,1217.5L976.3,1284.0" stroke="#cbb7aa" stroke-width="3.8" opacity="0.26"/><path d="M964.2,1243.5L966.8,1291.5" stroke="#d2c2b6" stroke-width="4.0" opacity="0.19"/><path d="M906.7,1284.4L909.3,1332.6" stroke="#d2c2b6" stroke-width="3.6" opacity="0.25"/><path d="M930.3,1268.2L932.4,1307.3" stroke="#cbb7aa" stroke-width="2.1" opacity="0.29"/><path d="M926.7,1287.9L928.3,1318.9" stroke="#cbb7aa" stroke-width="3.6" opacity="0.12"/><path d="M831.6,1423.5L833.1,1451.1" stroke="#cbb7aa" stroke-width="2.6" opacity="0.14"/><path d="M866.5,1366.4L868.3,1399.7" stroke="#cbb7aa" stroke-width="2.9" opacity="0.15"/><path d="M956.9,1262.4L958.6,1294.8" stroke="#d2c2b6" stroke-width="3.5" opacity="0.28"/><path d="M986.7,1188.1L990.5,1254.0" stroke="#d8c8bc" stroke-width="3.2" opacity="0.16"/><path d="M852.4,1376.1L854.9,1422.0" stroke="#d8c8bc" stroke-width="3.4" opacity="0.17"/><path d="M890.0,1314.0L892.6,1361.7" stroke="#d2c2b6" stroke-width="2.1" opacity="0.21"/><path d="M864.5,1363.4L866.4,1399.7" stroke="#d8c8bc" stroke-width="3.3" opacity="0.29"/><path d="M828.8,1414.0L830.9,1454.0" stroke="#d2c2b6" stroke-width="3.4" opacity="0.25"/><path d="M970.8,1242.7L973.2,1287.6" stroke="#d2c2b6" stroke-width="2.2" opacity="0.25"/><path d="M831.9,1420.1L833.2,1446.4" stroke="#d2c2b6" stroke-width="4.3" opacity="0.19"/><path d="M854.5,1364.4L857.2,1412.6" stroke="#d8c8bc" stroke-width="2.1" opacity="0.26"/><path d="M988.0,1201.3L989.5,1230.0" stroke="#d2c2b6" stroke-width="2.9" opacity="0.21"/><path d="M981.7,1196.0L985.7,1265.6" stroke="#cbb7aa" stroke-width="3.1" opacity="0.20"/><path d="M979.6,1215.5L981.6,1254.0" stroke="#cbb7aa" stroke-width="4.1" opacity="0.20"/><path d="M987.0,1204.6L990.8,1272.3" stroke="#cbb7aa" stroke-width="4.4" opacity="0.25"/><path d="M856.1,1366.4L858.2,1406.2" stroke="#cbb7aa" stroke-width="2.3" opacity="0.31"/><path d="M857.1,1390.5L858.4,1416.5" stroke="#d2c2b6" stroke-width="3.4" opacity="0.20"/><path d="M982.9,1203.4L985.0,1242.4" stroke="#d8c8bc" stroke-width="2.1" opacity="0.28"/><path d="M976.1,1227.1L979.3,1284.0" stroke="#d2c2b6" stroke-width="4.3" opacity="0.24"/><path d="M985.4,1176.2L988.7,1233.8" stroke="#d2c2b6" stroke-width="3.5" opacity="0.26"/><path d="M874.6,1313.2L877.7,1368.9" stroke="#d2c2b6" stroke-width="3.9" opacity="0.14"/><path d="M879.8,1332.0L882.3,1377.1" stroke="#d8c8bc" stroke-width="4.3" opacity="0.25"/><path d="M941.4,1274.9L943.0,1305.8" stroke="#cbb7aa" stroke-width="3.4" opacity="0.17"/><path d="M906.4,1306.9L907.7,1332.6" stroke="#d8c8bc" stroke-width="3.1" opacity="0.25"/><path d="M839.8,1389.3L842.6,1439.4" stroke="#d8c8bc" stroke-width="3.9" opacity="0.20"/><path d="M953.3,1270.1L954.5,1294.8" stroke="#cbb7aa" stroke-width="3.5" opacity="0.32"/><path d="M863.8,1351.0L866.2,1395.7" stroke="#d8c8bc" stroke-width="2.2" opacity="0.21"/><path d="M865.5,1350.3L868.0,1395.7" stroke="#d8c8bc" stroke-width="3.7" opacity="0.14"/><path d="M850.0,1386.4L851.6,1416.5" stroke="#cbb7aa" stroke-width="2.0" opacity="0.26"/><path d="M893.3,1289.1L896.7,1350.3" stroke="#d8c8bc" stroke-width="2.9" opacity="0.27"/><path d="M865.3,1371.5L866.8,1399.7" stroke="#d2c2b6" stroke-width="3.4" opacity="0.22"/></g>
<path d="M1040,1150 L1040,1300" stroke="#6a3f2d" stroke-width="30" filter="url(#b8)" fill="none" opacity="0.9"/>
<path d="M1012,1290 L1060,1290 L1060,1345 L1012,1345Z" fill="#cdbcb0" opacity="0.55" filter="url(#b8)"/>
<path d="M1022.0,1262.0L1023.5,1345" stroke="#101218" stroke-width="1.2"/><path d="M1027.0,1222.0L1028.5,1345" stroke="#101218" stroke-width="1.0"/><path d="M1031.0,1205.0L1032.5,1345" stroke="#101218" stroke-width="1.2"/><path d="M1036.0,1236.0L1037.5,1345" stroke="#101218" stroke-width="1.0"/><path d="M1041.0,1228.0L1042.5,1345" stroke="#101218" stroke-width="1.3"/><path d="M1046.0,1246.0L1047.5,1345" stroke="#101218" stroke-width="1.0"/><path d="M1051.0,1232.0L1052.5,1345" stroke="#101218" stroke-width="1.2"/><path d="M1055.0,1252.0L1056.5,1345" stroke="#101218" stroke-width="1.0"/>
<path d="M700,1180 L1070,1030 L1070,1000 L700,1000Z" fill="#2a130c" opacity="0.55" filter="url(#b14)"/>
</g>
<g clip-path="url(#cRD)">
<rect x="1080" y="980" width="420" height="480" fill="url(#gDia)"/>
<g filter="url(#b1)"><path d="M1352.8,1327.0L1346.6,1531.4" stroke="#4b2618" stroke-width="2.6" opacity="0.25"/><path d="M1100.7,1255.2L1095.1,1442.3" stroke="#4b2618" stroke-width="2.0" opacity="0.36"/><path d="M1326.0,1347.3L1320.3,1537.6" stroke="#4b2618" stroke-width="1.8" opacity="0.58"/><path d="M1375.2,1200.9L1373.1,1270.9" stroke="#4b2618" stroke-width="1.9" opacity="0.48"/><path d="M1337.4,1185.4L1334.2,1294.8" stroke="#8a5a42" stroke-width="3.1" opacity="0.52"/><path d="M1313.2,1147.7L1311.7,1198.6" stroke="#5a2f1d" stroke-width="2.9" opacity="0.50"/><path d="M1101.0,1105.3L1095.3,1295.2" stroke="#8a5a42" stroke-width="3.2" opacity="0.34"/><path d="M1244.1,1172.9L1238.8,1351.7" stroke="#7a4a33" stroke-width="2.8" opacity="0.35"/><path d="M1095.6,1138.9L1092.2,1255.0" stroke="#4b2618" stroke-width="1.8" opacity="0.30"/><path d="M1437.9,1357.9L1435.9,1424.3" stroke="#8a5a42" stroke-width="1.9" opacity="0.28"/><path d="M1308.2,1299.2L1305.9,1375.3" stroke="#7a4a33" stroke-width="1.8" opacity="0.27"/><path d="M1247.3,1272.5L1241.1,1479.2" stroke="#4b2618" stroke-width="2.8" opacity="0.41"/><path d="M1128.8,1302.0L1123.4,1481.0" stroke="#7a4a33" stroke-width="2.0" opacity="0.43"/><path d="M1194.9,1310.0L1192.0,1407.8" stroke="#7a4a33" stroke-width="1.6" opacity="0.32"/><path d="M1164.6,1270.3L1161.4,1375.6" stroke="#5a2f1d" stroke-width="2.0" opacity="0.43"/><path d="M1152.4,1073.4L1145.8,1292.9" stroke="#5a2f1d" stroke-width="2.9" opacity="0.38"/><path d="M1273.4,1084.5L1270.5,1181.4" stroke="#4b2618" stroke-width="1.9" opacity="0.43"/><path d="M1102.9,1070.1L1096.4,1288.3" stroke="#8a5a42" stroke-width="2.4" opacity="0.32"/><path d="M1451.3,1143.9L1449.6,1201.4" stroke="#8a5a42" stroke-width="2.7" opacity="0.54"/><path d="M1465.9,1136.2L1464.5,1183.0" stroke="#7a4a33" stroke-width="3.2" opacity="0.38"/><path d="M1105.6,1070.4L1102.4,1177.0" stroke="#8a5a42" stroke-width="2.2" opacity="0.55"/><path d="M1439.5,1318.9L1434.8,1474.1" stroke="#4b2618" stroke-width="2.6" opacity="0.28"/><path d="M1217.7,1130.0L1216.0,1186.1" stroke="#8a5a42" stroke-width="1.6" opacity="0.55"/><path d="M1237.8,1130.5L1232.7,1300.3" stroke="#7a4a33" stroke-width="1.3" opacity="0.34"/><path d="M1230.5,1330.8L1224.4,1533.6" stroke="#4b2618" stroke-width="1.7" opacity="0.43"/><path d="M1379.7,1288.5L1375.9,1415.5" stroke="#4b2618" stroke-width="1.5" opacity="0.51"/><path d="M1456.7,1263.1L1453.8,1356.8" stroke="#8a5a42" stroke-width="2.7" opacity="0.29"/><path d="M1219.7,1137.1L1217.8,1199.4" stroke="#8a5a42" stroke-width="2.0" opacity="0.40"/><path d="M1405.9,1334.3L1399.9,1534.9" stroke="#8a5a42" stroke-width="2.6" opacity="0.32"/><path d="M1108.9,1338.3L1106.5,1418.0" stroke="#5a2f1d" stroke-width="3.0" opacity="0.30"/><path d="M1267.2,1089.1L1261.0,1296.3" stroke="#4b2618" stroke-width="2.5" opacity="0.41"/><path d="M1225.8,1306.9L1222.0,1432.9" stroke="#5a2f1d" stroke-width="1.5" opacity="0.33"/><path d="M1116.8,1274.1L1112.7,1413.7" stroke="#7a4a33" stroke-width="2.1" opacity="0.30"/><path d="M1256.0,1134.0L1254.7,1178.6" stroke="#5a2f1d" stroke-width="1.9" opacity="0.31"/><path d="M1284.0,1155.4L1278.0,1358.0" stroke="#4b2618" stroke-width="1.5" opacity="0.43"/><path d="M1337.9,1296.3L1331.7,1502.8" stroke="#8a5a42" stroke-width="2.9" opacity="0.29"/><path d="M1385.6,1351.2L1382.1,1469.0" stroke="#5a2f1d" stroke-width="3.2" opacity="0.57"/><path d="M1132.6,1146.8L1126.5,1348.1" stroke="#4b2618" stroke-width="2.9" opacity="0.59"/><path d="M1150.6,1251.9L1147.0,1371.5" stroke="#5a2f1d" stroke-width="2.2" opacity="0.41"/><path d="M1399.0,1343.1L1396.2,1434.6" stroke="#5a2f1d" stroke-width="2.1" opacity="0.57"/><path d="M1179.0,1231.4L1177.1,1296.3" stroke="#7a4a33" stroke-width="2.2" opacity="0.33"/><path d="M1162.6,1240.2L1156.9,1429.4" stroke="#8a5a42" stroke-width="2.7" opacity="0.31"/><path d="M1147.8,1261.0L1143.2,1414.1" stroke="#7a4a33" stroke-width="2.4" opacity="0.32"/><path d="M1120.3,1279.8L1116.9,1393.3" stroke="#4b2618" stroke-width="2.2" opacity="0.37"/><path d="M1203.5,1251.8L1197.2,1462.0" stroke="#4b2618" stroke-width="1.2" opacity="0.57"/><path d="M1278.5,1321.6L1275.9,1409.5" stroke="#7a4a33" stroke-width="2.3" opacity="0.59"/><path d="M1109.1,1270.7L1104.8,1414.2" stroke="#4b2618" stroke-width="1.9" opacity="0.58"/><path d="M1468.0,1081.4L1464.8,1185.6" stroke="#7a4a33" stroke-width="2.8" opacity="0.55"/><path d="M1218.6,1273.4L1215.3,1382.0" stroke="#4b2618" stroke-width="1.8" opacity="0.29"/><path d="M1376.4,1193.9L1375.1,1238.5" stroke="#7a4a33" stroke-width="1.2" opacity="0.59"/><path d="M1181.1,1114.7L1179.4,1173.2" stroke="#5a2f1d" stroke-width="2.3" opacity="0.58"/><path d="M1102.5,1337.9L1097.3,1510.9" stroke="#5a2f1d" stroke-width="1.2" opacity="0.46"/><path d="M1316.9,1216.9L1312.0,1383.3" stroke="#4b2618" stroke-width="1.9" opacity="0.28"/><path d="M1163.9,1141.9L1160.2,1265.6" stroke="#5a2f1d" stroke-width="1.4" opacity="0.29"/><path d="M1435.5,1222.5L1433.1,1303.4" stroke="#7a4a33" stroke-width="1.5" opacity="0.45"/><path d="M1382.4,1109.3L1376.8,1298.0" stroke="#8a5a42" stroke-width="2.6" opacity="0.46"/><path d="M1327.1,1070.9L1320.6,1285.6" stroke="#4b2618" stroke-width="2.8" opacity="0.37"/><path d="M1187.5,1160.5L1184.0,1278.9" stroke="#5a2f1d" stroke-width="2.8" opacity="0.55"/><path d="M1115.6,1215.2L1109.2,1427.6" stroke="#5a2f1d" stroke-width="1.7" opacity="0.40"/><path d="M1338.6,1169.3L1334.5,1304.9" stroke="#4b2618" stroke-width="1.8" opacity="0.32"/><path d="M1352.6,1127.6L1349.1,1243.4" stroke="#8a5a42" stroke-width="2.8" opacity="0.58"/><path d="M1338.8,1302.8L1332.8,1502.0" stroke="#4b2618" stroke-width="1.3" opacity="0.47"/><path d="M1197.3,1263.5L1194.6,1352.7" stroke="#4b2618" stroke-width="2.4" opacity="0.34"/><path d="M1295.3,1190.1L1289.0,1401.3" stroke="#5a2f1d" stroke-width="1.4" opacity="0.37"/><path d="M1159.3,1078.1L1152.9,1290.7" stroke="#5a2f1d" stroke-width="1.4" opacity="0.46"/><path d="M1453.8,1192.0L1449.8,1324.1" stroke="#5a2f1d" stroke-width="3.0" opacity="0.45"/><path d="M1200.5,1280.8L1195.3,1454.1" stroke="#5a2f1d" stroke-width="2.9" opacity="0.46"/><path d="M1314.5,1255.1L1312.2,1331.3" stroke="#5a2f1d" stroke-width="2.1" opacity="0.44"/><path d="M1330.9,1200.7L1328.1,1296.6" stroke="#7a4a33" stroke-width="1.9" opacity="0.32"/><path d="M1305.2,1350.9L1301.8,1462.2" stroke="#5a2f1d" stroke-width="1.5" opacity="0.58"/><path d="M1219.7,1157.6L1217.1,1246.2" stroke="#7a4a33" stroke-width="1.8" opacity="0.52"/><path d="M1156.0,1080.0L1150.1,1276.9" stroke="#8a5a42" stroke-width="2.5" opacity="0.43"/><path d="M1416.2,1166.2L1410.9,1343.5" stroke="#7a4a33" stroke-width="3.2" opacity="0.49"/><path d="M1454.6,1185.0L1449.8,1345.3" stroke="#7a4a33" stroke-width="2.6" opacity="0.47"/><path d="M1422.2,1306.4L1418.3,1439.6" stroke="#8a5a42" stroke-width="1.7" opacity="0.47"/><path d="M1338.4,1271.1L1334.9,1385.4" stroke="#4b2618" stroke-width="1.2" opacity="0.52"/><path d="M1320.5,1209.4L1314.1,1422.7" stroke="#7a4a33" stroke-width="2.0" opacity="0.52"/><path d="M1431.0,1242.2L1427.8,1350.5" stroke="#8a5a42" stroke-width="2.6" opacity="0.35"/><path d="M1230.8,1165.9L1226.7,1300.6" stroke="#8a5a42" stroke-width="2.5" opacity="0.25"/><path d="M1382.1,1356.9L1378.9,1465.4" stroke="#5a2f1d" stroke-width="1.6" opacity="0.36"/><path d="M1150.8,1232.6L1146.5,1377.3" stroke="#4b2618" stroke-width="2.8" opacity="0.37"/><path d="M1468.0,1242.4L1465.5,1326.1" stroke="#5a2f1d" stroke-width="1.6" opacity="0.40"/><path d="M1445.6,1063.2L1444.1,1111.7" stroke="#8a5a42" stroke-width="1.8" opacity="0.44"/><path d="M1215.3,1246.0L1211.7,1364.7" stroke="#8a5a42" stroke-width="2.0" opacity="0.38"/><path d="M1324.0,1165.3L1317.6,1376.0" stroke="#4b2618" stroke-width="2.3" opacity="0.28"/><path d="M1239.2,1180.3L1234.9,1321.3" stroke="#7a4a33" stroke-width="3.0" opacity="0.59"/><path d="M1282.4,1192.0L1277.8,1344.5" stroke="#5a2f1d" stroke-width="2.6" opacity="0.51"/><path d="M1130.5,1168.8L1127.3,1274.8" stroke="#4b2618" stroke-width="2.9" opacity="0.43"/><path d="M1137.5,1328.4L1132.6,1492.5" stroke="#8a5a42" stroke-width="2.5" opacity="0.43"/><path d="M1409.2,1122.3L1403.2,1323.1" stroke="#8a5a42" stroke-width="1.6" opacity="0.47"/><path d="M1327.2,1166.0L1320.6,1384.8" stroke="#4b2618" stroke-width="2.6" opacity="0.25"/><path d="M1096.1,1273.2L1091.9,1412.7" stroke="#5a2f1d" stroke-width="2.0" opacity="0.28"/><path d="M1100.9,1068.9L1098.8,1140.4" stroke="#5a2f1d" stroke-width="2.9" opacity="0.56"/><path d="M1293.0,1103.1L1290.7,1178.9" stroke="#4b2618" stroke-width="1.5" opacity="0.43"/><path d="M1291.2,1068.7L1289.5,1122.4" stroke="#8a5a42" stroke-width="2.8" opacity="0.46"/><path d="M1405.5,1078.6L1404.3,1120.9" stroke="#5a2f1d" stroke-width="1.5" opacity="0.33"/><path d="M1201.0,1069.9L1196.5,1223.0" stroke="#4b2618" stroke-width="1.9" opacity="0.41"/><path d="M1243.5,1076.4L1237.5,1276.7" stroke="#4b2618" stroke-width="2.1" opacity="0.47"/><path d="M1191.0,1073.2L1184.8,1280.7" stroke="#7a4a33" stroke-width="1.8" opacity="0.56"/><path d="M1409.1,1151.1L1404.7,1299.6" stroke="#8a5a42" stroke-width="3.2" opacity="0.27"/><path d="M1355.8,1262.5L1351.4,1407.7" stroke="#8a5a42" stroke-width="1.8" opacity="0.56"/><path d="M1281.5,1297.8L1279.0,1381.6" stroke="#7a4a33" stroke-width="1.5" opacity="0.38"/><path d="M1097.9,1324.7L1094.6,1436.0" stroke="#5a2f1d" stroke-width="1.4" opacity="0.44"/><path d="M1243.5,1181.0L1241.9,1232.7" stroke="#4b2618" stroke-width="2.0" opacity="0.57"/><path d="M1308.2,1176.2L1304.5,1300.3" stroke="#5a2f1d" stroke-width="1.7" opacity="0.26"/><path d="M1350.7,1162.4L1348.7,1230.5" stroke="#7a4a33" stroke-width="1.4" opacity="0.34"/><path d="M1416.5,1098.3L1412.9,1218.1" stroke="#7a4a33" stroke-width="1.5" opacity="0.37"/><path d="M1373.1,1173.1L1366.8,1385.6" stroke="#7a4a33" stroke-width="1.8" opacity="0.42"/><path d="M1173.7,1317.5L1168.9,1479.1" stroke="#5a2f1d" stroke-width="2.4" opacity="0.40"/><path d="M1476.1,1220.4L1472.8,1333.1" stroke="#7a4a33" stroke-width="1.5" opacity="0.51"/><path d="M1356.0,1087.4L1350.2,1280.8" stroke="#8a5a42" stroke-width="1.3" opacity="0.50"/><path d="M1150.9,1064.5L1145.8,1232.4" stroke="#7a4a33" stroke-width="2.8" opacity="0.33"/><path d="M1167.5,1327.4L1165.9,1379.7" stroke="#5a2f1d" stroke-width="2.8" opacity="0.52"/><path d="M1169.2,1275.6L1167.6,1331.4" stroke="#5a2f1d" stroke-width="1.5" opacity="0.50"/><path d="M1203.7,1181.0L1197.6,1384.6" stroke="#7a4a33" stroke-width="3.1" opacity="0.31"/><path d="M1236.1,1299.8L1231.2,1464.2" stroke="#8a5a42" stroke-width="1.3" opacity="0.50"/><path d="M1273.1,1360.0L1269.7,1472.1" stroke="#4b2618" stroke-width="1.6" opacity="0.29"/><path d="M1446.4,1280.2L1441.3,1448.5" stroke="#4b2618" stroke-width="2.0" opacity="0.46"/><path d="M1260.8,1287.1L1258.8,1355.2" stroke="#4b2618" stroke-width="2.3" opacity="0.47"/><path d="M1457.5,1229.4L1455.1,1310.3" stroke="#8a5a42" stroke-width="2.6" opacity="0.34"/><path d="M1262.4,1265.3L1259.4,1368.1" stroke="#4b2618" stroke-width="1.4" opacity="0.52"/><path d="M1347.3,1330.3L1341.4,1527.8" stroke="#4b2618" stroke-width="3.1" opacity="0.49"/><path d="M1109.3,1155.6L1103.9,1335.4" stroke="#5a2f1d" stroke-width="2.7" opacity="0.28"/><path d="M1362.5,1178.1L1357.2,1352.7" stroke="#7a4a33" stroke-width="1.8" opacity="0.28"/><path d="M1459.3,1187.2L1453.1,1394.6" stroke="#8a5a42" stroke-width="2.2" opacity="0.49"/><path d="M1174.3,1261.9L1168.5,1454.3" stroke="#7a4a33" stroke-width="2.2" opacity="0.32"/><path d="M1461.6,1307.6L1457.4,1448.2" stroke="#7a4a33" stroke-width="2.3" opacity="0.59"/><path d="M1340.4,1223.2L1337.9,1308.1" stroke="#4b2618" stroke-width="1.5" opacity="0.37"/><path d="M1130.6,1251.0L1128.7,1315.6" stroke="#8a5a42" stroke-width="2.5" opacity="0.33"/><path d="M1188.1,1214.6L1184.5,1334.7" stroke="#5a2f1d" stroke-width="2.6" opacity="0.30"/><path d="M1367.5,1236.3L1365.0,1319.6" stroke="#4b2618" stroke-width="2.3" opacity="0.52"/><path d="M1160.1,1260.0L1155.7,1407.7" stroke="#8a5a42" stroke-width="2.9" opacity="0.39"/><path d="M1174.4,1267.0L1173.2,1309.3" stroke="#8a5a42" stroke-width="1.6" opacity="0.27"/><path d="M1203.1,1119.1L1198.2,1285.4" stroke="#8a5a42" stroke-width="3.1" opacity="0.31"/><path d="M1266.4,1230.8L1263.6,1322.9" stroke="#4b2618" stroke-width="1.3" opacity="0.41"/><path d="M1472.2,1205.7L1467.0,1380.2" stroke="#5a2f1d" stroke-width="3.2" opacity="0.45"/><path d="M1136.9,1206.7L1133.3,1324.8" stroke="#7a4a33" stroke-width="2.8" opacity="0.36"/><path d="M1233.3,1087.3L1230.6,1178.8" stroke="#5a2f1d" stroke-width="2.5" opacity="0.28"/><path d="M1382.8,1067.6L1379.4,1178.7" stroke="#7a4a33" stroke-width="1.8" opacity="0.32"/><path d="M1340.7,1313.7L1334.5,1520.5" stroke="#7a4a33" stroke-width="1.4" opacity="0.50"/><path d="M1214.5,1245.0L1211.2,1353.3" stroke="#5a2f1d" stroke-width="1.8" opacity="0.38"/><path d="M1307.2,1170.8L1301.5,1360.4" stroke="#7a4a33" stroke-width="1.3" opacity="0.29"/><path d="M1404.1,1336.3L1397.5,1556.3" stroke="#8a5a42" stroke-width="3.0" opacity="0.58"/><path d="M1285.3,1209.9L1283.3,1278.2" stroke="#5a2f1d" stroke-width="2.4" opacity="0.47"/><path d="M1149.6,1128.2L1147.7,1193.1" stroke="#8a5a42" stroke-width="1.4" opacity="0.26"/><path d="M1264.2,1117.2L1259.1,1287.4" stroke="#4b2618" stroke-width="1.3" opacity="0.46"/><path d="M1415.9,1213.4L1413.9,1279.2" stroke="#4b2618" stroke-width="2.5" opacity="0.43"/><path d="M1257.2,1161.6L1253.6,1280.6" stroke="#7a4a33" stroke-width="3.0" opacity="0.31"/><path d="M1208.9,1192.9L1204.6,1334.4" stroke="#5a2f1d" stroke-width="2.3" opacity="0.41"/><path d="M1303.9,1215.0L1300.4,1332.1" stroke="#7a4a33" stroke-width="3.1" opacity="0.59"/><path d="M1333.6,1303.3L1332.1,1354.1" stroke="#5a2f1d" stroke-width="2.4" opacity="0.35"/><path d="M1314.9,1345.8L1311.1,1472.4" stroke="#7a4a33" stroke-width="1.8" opacity="0.37"/><path d="M1435.8,1068.4L1433.5,1142.3" stroke="#8a5a42" stroke-width="2.6" opacity="0.30"/><path d="M1317.9,1226.5L1311.6,1436.2" stroke="#5a2f1d" stroke-width="2.3" opacity="0.45"/><path d="M1247.6,1094.3L1245.4,1166.8" stroke="#7a4a33" stroke-width="2.3" opacity="0.29"/><path d="M1426.9,1136.0L1425.2,1193.1" stroke="#5a2f1d" stroke-width="2.6" opacity="0.33"/><path d="M1271.4,1222.4L1266.4,1387.8" stroke="#4b2618" stroke-width="2.9" opacity="0.49"/><path d="M1403.1,1100.3L1399.2,1230.8" stroke="#4b2618" stroke-width="2.5" opacity="0.59"/><path d="M1293.3,1198.0L1288.4,1361.5" stroke="#7a4a33" stroke-width="3.1" opacity="0.32"/><path d="M1277.9,1087.9L1274.7,1195.1" stroke="#4b2618" stroke-width="2.0" opacity="0.27"/><path d="M1111.1,1270.6L1104.7,1482.6" stroke="#8a5a42" stroke-width="1.8" opacity="0.50"/><path d="M1259.0,1326.6L1254.4,1478.4" stroke="#7a4a33" stroke-width="2.3" opacity="0.57"/><path d="M1430.2,1110.4L1425.0,1284.6" stroke="#5a2f1d" stroke-width="2.8" opacity="0.51"/><path d="M1099.5,1136.7L1097.0,1219.8" stroke="#5a2f1d" stroke-width="2.6" opacity="0.27"/><path d="M1327.5,1089.9L1323.3,1228.7" stroke="#4b2618" stroke-width="1.3" opacity="0.57"/><path d="M1188.3,1166.3L1183.4,1331.2" stroke="#4b2618" stroke-width="2.9" opacity="0.45"/><path d="M1138.7,1066.3L1136.9,1126.2" stroke="#5a2f1d" stroke-width="1.6" opacity="0.44"/><path d="M1206.7,1266.1L1203.4,1374.7" stroke="#7a4a33" stroke-width="2.4" opacity="0.34"/><path d="M1478.9,1288.4L1476.3,1376.8" stroke="#8a5a42" stroke-width="1.2" opacity="0.37"/><path d="M1153.1,1210.5L1147.2,1407.7" stroke="#4b2618" stroke-width="1.3" opacity="0.47"/></g>
<path d="M1203.0,1252.0C1205.3,1250.0 1202.0,1240.7 1210.0,1246.0C1218.0,1251.3 1215.3,1264.7 1227.0,1268.0C1238.7,1271.3 1229.0,1255.3 1245.0,1256.0C1261.0,1256.7 1255.0,1253.0 1275.0,1270.0C1295.0,1287.0 1285.0,1279.7 1305.0,1307.0C1325.0,1334.3 1315.0,1322.7 1335.0,1352.0C1355.0,1381.3 1345.0,1370.0 1365.0,1395.0C1385.0,1420.0 1379.3,1417.0 1395.0,1427.0C1410.7,1437.0 1406.3,1425.7 1412.0,1425.0" fill="none" stroke="#c9b7ab" stroke-width="104" stroke-linecap="round" stroke-linejoin="round" filter="url(#b22)" opacity="0.95"/>
<path d="M1203.0,1252.0C1205.3,1250.0 1202.0,1240.7 1210.0,1246.0C1218.0,1251.3 1215.3,1264.7 1227.0,1268.0C1238.7,1271.3 1229.0,1255.3 1245.0,1256.0C1261.0,1256.7 1255.0,1253.0 1275.0,1270.0C1295.0,1287.0 1285.0,1279.7 1305.0,1307.0C1325.0,1334.3 1315.0,1322.7 1335.0,1352.0C1355.0,1381.3 1345.0,1370.0 1365.0,1395.0C1385.0,1420.0 1379.3,1417.0 1395.0,1427.0C1410.7,1437.0 1406.3,1425.7 1412.0,1425.0" fill="none" stroke="#d6c7bc" stroke-width="50" stroke-linecap="round" stroke-linejoin="round" filter="url(#b14)"/>
<g filter="url(#b2)" stroke-linecap="round"><path d="M1406.1,1389.1L1404.4,1434.7" stroke="#cbb7aa" stroke-width="4.4" opacity="0.26"/><path d="M1324.9,1266.5L1322.2,1338.5" stroke="#d2c2b6" stroke-width="3.3" opacity="0.19"/><path d="M1352.8,1311.1L1350.1,1384.2" stroke="#d2c2b6" stroke-width="3.6" opacity="0.16"/><path d="M1295.8,1248.8L1294.3,1291.1" stroke="#cbb7aa" stroke-width="3.0" opacity="0.19"/><path d="M1202.9,1205.4L1201.0,1256.0" stroke="#d8c8bc" stroke-width="2.1" opacity="0.21"/><path d="M1381.1,1392.4L1379.9,1424.4" stroke="#d2c2b6" stroke-width="2.4" opacity="0.20"/><path d="M1207.8,1210.0L1206.4,1248.4" stroke="#d2c2b6" stroke-width="3.4" opacity="0.24"/><path d="M1226.5,1240.9L1225.6,1266.8" stroke="#d2c2b6" stroke-width="4.3" opacity="0.14"/><path d="M1239.9,1208.2L1237.7,1267.0" stroke="#d2c2b6" stroke-width="2.2" opacity="0.28"/><path d="M1252.3,1184.4L1249.5,1260.0" stroke="#d2c2b6" stroke-width="2.2" opacity="0.31"/><path d="M1291.3,1232.3L1289.4,1284.3" stroke="#d2c2b6" stroke-width="2.6" opacity="0.29"/><path d="M1310.5,1255.4L1308.2,1318.1" stroke="#d2c2b6" stroke-width="2.8" opacity="0.32"/><path d="M1343.0,1290.5L1340.2,1363.7" stroke="#d8c8bc" stroke-width="4.5" opacity="0.15"/><path d="M1231.9,1193.0L1229.2,1264.9" stroke="#cbb7aa" stroke-width="3.0" opacity="0.20"/><path d="M1273.0,1209.8L1270.9,1266.1" stroke="#d8c8bc" stroke-width="2.8" opacity="0.18"/><path d="M1380.8,1339.5L1378.0,1415.0" stroke="#cbb7aa" stroke-width="2.2" opacity="0.16"/><path d="M1212.5,1209.3L1211.0,1250.0" stroke="#cbb7aa" stroke-width="4.5" opacity="0.19"/><path d="M1411.4,1358.7L1408.7,1430.4" stroke="#d8c8bc" stroke-width="4.1" opacity="0.18"/><path d="M1230.5,1233.8L1229.1,1272.0" stroke="#d8c8bc" stroke-width="3.9" opacity="0.25"/><path d="M1248.7,1224.0L1247.5,1260.0" stroke="#cbb7aa" stroke-width="3.1" opacity="0.30"/><path d="M1267.0,1202.3L1264.8,1261.9" stroke="#d8c8bc" stroke-width="2.6" opacity="0.13"/><path d="M1220.5,1236.0L1219.5,1264.4" stroke="#d2c2b6" stroke-width="2.9" opacity="0.15"/><path d="M1233.2,1209.7L1231.0,1269.0" stroke="#d8c8bc" stroke-width="3.6" opacity="0.30"/><path d="M1236.8,1191.2L1234.1,1262.9" stroke="#d8c8bc" stroke-width="3.6" opacity="0.20"/><path d="M1412.9,1399.3L1411.7,1432.9" stroke="#cbb7aa" stroke-width="4.0" opacity="0.14"/><path d="M1387.7,1375.0L1385.8,1426.2" stroke="#d2c2b6" stroke-width="3.0" opacity="0.31"/><path d="M1199.4,1213.8L1197.9,1255.2" stroke="#d2c2b6" stroke-width="4.5" opacity="0.13"/><path d="M1392.9,1356.3L1390.3,1426.2" stroke="#d8c8bc" stroke-width="2.2" opacity="0.15"/><path d="M1224.5,1198.7L1221.9,1268.9" stroke="#cbb7aa" stroke-width="4.0" opacity="0.20"/><path d="M1361.0,1316.1L1358.3,1387.7" stroke="#d8c8bc" stroke-width="3.6" opacity="0.24"/><path d="M1282.8,1223.7L1280.6,1281.8" stroke="#d2c2b6" stroke-width="3.2" opacity="0.13"/><path d="M1402.5,1368.2L1400.0,1434.7" stroke="#d2c2b6" stroke-width="3.1" opacity="0.18"/><path d="M1353.3,1342.4L1351.9,1381.5" stroke="#cbb7aa" stroke-width="2.0" opacity="0.22"/><path d="M1411.2,1357.4L1408.2,1435.1" stroke="#d8c8bc" stroke-width="4.5" opacity="0.17"/><path d="M1219.5,1193.5L1217.3,1251.8" stroke="#d8c8bc" stroke-width="2.2" opacity="0.22"/><path d="M1375.0,1367.4L1373.6,1405.7" stroke="#d2c2b6" stroke-width="2.9" opacity="0.15"/><path d="M1238.9,1200.9L1236.3,1272.0" stroke="#d8c8bc" stroke-width="3.3" opacity="0.19"/><path d="M1411.9,1351.0L1408.9,1429.0" stroke="#cbb7aa" stroke-width="2.5" opacity="0.30"/><path d="M1300.9,1262.0L1299.4,1303.8" stroke="#d8c8bc" stroke-width="2.3" opacity="0.27"/><path d="M1212.9,1174.1L1210.1,1248.4" stroke="#d2c2b6" stroke-width="4.2" opacity="0.13"/><path d="M1375.6,1337.1L1372.8,1411.0" stroke="#cbb7aa" stroke-width="4.4" opacity="0.25"/><path d="M1233.3,1236.2L1232.5,1261.3" stroke="#d2c2b6" stroke-width="3.1" opacity="0.17"/><path d="M1234.8,1217.5L1233.0,1264.9" stroke="#cbb7aa" stroke-width="2.7" opacity="0.32"/><path d="M1244.6,1195.4L1242.0,1262.9" stroke="#cbb7aa" stroke-width="4.2" opacity="0.29"/><path d="M1263.3,1228.8L1262.2,1260.3" stroke="#cbb7aa" stroke-width="2.7" opacity="0.19"/><path d="M1349.7,1331.6L1348.3,1369.3" stroke="#cbb7aa" stroke-width="3.7" opacity="0.24"/><path d="M1320.9,1311.6L1320.0,1338.5" stroke="#d8c8bc" stroke-width="4.1" opacity="0.27"/><path d="M1210.4,1178.8L1207.7,1250.2" stroke="#d8c8bc" stroke-width="3.1" opacity="0.15"/><path d="M1270.5,1197.8L1268.0,1266.1" stroke="#d8c8bc" stroke-width="4.4" opacity="0.12"/><path d="M1264.0,1201.6L1261.5,1266.1" stroke="#d8c8bc" stroke-width="3.9" opacity="0.21"/><path d="M1301.6,1268.3L1300.1,1311.0" stroke="#d2c2b6" stroke-width="3.8" opacity="0.30"/><path d="M1206.4,1216.4L1205.2,1251.5" stroke="#d2c2b6" stroke-width="3.7" opacity="0.13"/><path d="M1351.6,1321.0L1349.6,1376.6" stroke="#d2c2b6" stroke-width="2.3" opacity="0.12"/><path d="M1270.8,1243.9L1269.8,1274.0" stroke="#cbb7aa" stroke-width="4.4" opacity="0.23"/><path d="M1201.5,1194.3L1199.1,1256.0" stroke="#d8c8bc" stroke-width="3.6" opacity="0.23"/><path d="M1219.1,1188.9L1216.4,1259.1" stroke="#d8c8bc" stroke-width="2.9" opacity="0.16"/><path d="M1242.3,1222.3L1240.9,1261.3" stroke="#d8c8bc" stroke-width="2.0" opacity="0.17"/><path d="M1201.6,1223.6L1200.7,1250.2" stroke="#d2c2b6" stroke-width="4.4" opacity="0.17"/><path d="M1284.7,1218.5L1282.4,1278.4" stroke="#d2c2b6" stroke-width="2.7" opacity="0.19"/><path d="M1322.4,1251.3L1319.7,1323.4" stroke="#d2c2b6" stroke-width="2.7" opacity="0.20"/><path d="M1361.8,1315.0L1358.9,1392.5" stroke="#cbb7aa" stroke-width="3.9" opacity="0.30"/><path d="M1228.5,1210.0L1226.3,1268.9" stroke="#d8c8bc" stroke-width="3.5" opacity="0.31"/><path d="M1257.1,1195.9L1254.7,1260.1" stroke="#d8c8bc" stroke-width="4.1" opacity="0.25"/><path d="M1218.7,1184.7L1216.2,1251.8" stroke="#d2c2b6" stroke-width="2.1" opacity="0.26"/><path d="M1284.2,1230.1L1282.4,1278.4" stroke="#d2c2b6" stroke-width="2.8" opacity="0.31"/><path d="M1204.9,1196.4L1202.7,1256.0" stroke="#cbb7aa" stroke-width="3.3" opacity="0.24"/><path d="M1295.1,1239.7L1292.9,1298.3" stroke="#d2c2b6" stroke-width="4.2" opacity="0.19"/><path d="M1207.1,1195.4L1205.1,1248.4" stroke="#d2c2b6" stroke-width="3.6" opacity="0.29"/><path d="M1211.5,1194.9L1209.5,1248.8" stroke="#d8c8bc" stroke-width="4.3" opacity="0.27"/><path d="M1261.5,1210.1L1259.7,1260.1" stroke="#d2c2b6" stroke-width="2.9" opacity="0.24"/><path d="M1375.1,1383.2L1374.0,1415.0" stroke="#d2c2b6" stroke-width="2.9" opacity="0.16"/><path d="M1235.0,1235.3L1233.7,1272.5" stroke="#d8c8bc" stroke-width="2.4" opacity="0.25"/><path d="M1236.1,1202.5L1233.5,1272.0" stroke="#d2c2b6" stroke-width="4.2" opacity="0.13"/><path d="M1297.2,1226.8L1294.5,1298.3" stroke="#cbb7aa" stroke-width="2.3" opacity="0.15"/><path d="M1252.4,1216.0L1250.8,1260.1" stroke="#d2c2b6" stroke-width="4.0" opacity="0.22"/><path d="M1326.8,1299.4L1325.4,1338.5" stroke="#cbb7aa" stroke-width="4.5" opacity="0.26"/><path d="M1327.5,1274.3L1325.1,1338.5" stroke="#d8c8bc" stroke-width="3.9" opacity="0.15"/><path d="M1406.2,1380.7L1404.4,1431.6" stroke="#d2c2b6" stroke-width="2.6" opacity="0.19"/><path d="M1291.5,1246.4L1290.1,1284.3" stroke="#d2c2b6" stroke-width="2.5" opacity="0.23"/><path d="M1208.0,1207.7L1206.5,1248.6" stroke="#d2c2b6" stroke-width="2.7" opacity="0.18"/><path d="M1243.9,1211.9L1242.2,1260.0" stroke="#d2c2b6" stroke-width="3.6" opacity="0.29"/><path d="M1232.8,1190.3L1229.9,1267.0" stroke="#cbb7aa" stroke-width="3.5" opacity="0.19"/><path d="M1208.6,1205.6L1207.0,1250.2" stroke="#d8c8bc" stroke-width="3.8" opacity="0.18"/><path d="M1315.2,1266.0L1313.1,1323.4" stroke="#cbb7aa" stroke-width="2.9" opacity="0.20"/><path d="M1377.4,1360.2L1375.2,1418.2" stroke="#d2c2b6" stroke-width="3.5" opacity="0.13"/><path d="M1234.0,1237.0L1233.1,1264.9" stroke="#cbb7aa" stroke-width="2.9" opacity="0.23"/><path d="M1354.0,1314.1L1351.7,1373.5" stroke="#d8c8bc" stroke-width="2.3" opacity="0.23"/><path d="M1334.0,1300.4L1332.3,1348.4" stroke="#cbb7aa" stroke-width="2.4" opacity="0.13"/><path d="M1306.8,1258.9L1304.9,1311.0" stroke="#d8c8bc" stroke-width="3.7" opacity="0.27"/><path d="M1313.5,1243.2L1310.7,1318.1" stroke="#cbb7aa" stroke-width="3.4" opacity="0.27"/><path d="M1322.8,1306.5L1321.5,1342.7" stroke="#d8c8bc" stroke-width="3.4" opacity="0.12"/><path d="M1344.0,1308.1L1341.6,1373.5" stroke="#d2c2b6" stroke-width="3.1" opacity="0.28"/><path d="M1238.8,1216.4L1236.9,1267.0" stroke="#d8c8bc" stroke-width="3.4" opacity="0.27"/><path d="M1377.1,1371.8L1375.4,1418.2" stroke="#d8c8bc" stroke-width="4.2" opacity="0.15"/><path d="M1283.1,1203.7L1280.2,1281.8" stroke="#d8c8bc" stroke-width="4.5" opacity="0.17"/><path d="M1251.4,1215.0L1249.8,1260.1" stroke="#d2c2b6" stroke-width="4.1" opacity="0.23"/><path d="M1356.9,1317.7L1354.6,1379.1" stroke="#cbb7aa" stroke-width="2.8" opacity="0.29"/><path d="M1325.6,1294.6L1324.3,1332.8" stroke="#d8c8bc" stroke-width="2.3" opacity="0.16"/><path d="M1404.8,1385.6L1403.0,1435.1" stroke="#cbb7aa" stroke-width="3.8" opacity="0.15"/><path d="M1285.7,1209.8L1282.9,1284.3" stroke="#d2c2b6" stroke-width="3.7" opacity="0.27"/><path d="M1205.6,1208.7L1203.9,1255.2" stroke="#d2c2b6" stroke-width="4.1" opacity="0.13"/><path d="M1243.1,1221.3L1241.7,1261.3" stroke="#d2c2b6" stroke-width="2.5" opacity="0.31"/><path d="M1390.1,1350.8L1387.2,1426.2" stroke="#cbb7aa" stroke-width="2.5" opacity="0.16"/><path d="M1234.4,1211.6L1232.2,1270.8" stroke="#d8c8bc" stroke-width="2.3" opacity="0.30"/><path d="M1384.2,1397.8L1383.4,1422.6" stroke="#d2c2b6" stroke-width="3.4" opacity="0.28"/><path d="M1345.6,1309.9L1343.2,1373.5" stroke="#d2c2b6" stroke-width="2.7" opacity="0.16"/><path d="M1225.6,1197.5L1222.7,1272.0" stroke="#d8c8bc" stroke-width="3.3" opacity="0.21"/><path d="M1240.7,1190.7L1237.8,1267.0" stroke="#cbb7aa" stroke-width="2.6" opacity="0.29"/><path d="M1419.2,1367.3L1416.9,1429.0" stroke="#d8c8bc" stroke-width="4.2" opacity="0.30"/><path d="M1216.8,1196.8L1214.2,1266.8" stroke="#cbb7aa" stroke-width="3.9" opacity="0.29"/><path d="M1279.9,1210.4L1277.5,1274.0" stroke="#cbb7aa" stroke-width="4.3" opacity="0.18"/><path d="M1234.6,1195.0L1232.1,1262.9" stroke="#d8c8bc" stroke-width="3.0" opacity="0.13"/><path d="M1293.4,1258.3L1292.0,1298.3" stroke="#d2c2b6" stroke-width="3.4" opacity="0.14"/><path d="M1326.8,1314.2L1325.6,1348.4" stroke="#cbb7aa" stroke-width="3.7" opacity="0.14"/><path d="M1288.3,1213.8L1285.5,1288.6" stroke="#d2c2b6" stroke-width="4.3" opacity="0.23"/><path d="M1263.4,1238.6L1262.6,1263.6" stroke="#cbb7aa" stroke-width="4.2" opacity="0.30"/><path d="M1236.9,1195.5L1234.2,1267.0" stroke="#d2c2b6" stroke-width="3.5" opacity="0.27"/><path d="M1231.4,1228.1L1230.1,1267.0" stroke="#d8c8bc" stroke-width="3.4" opacity="0.18"/><path d="M1383.8,1341.0L1380.9,1418.2" stroke="#cbb7aa" stroke-width="2.5" opacity="0.15"/><path d="M1261.9,1223.8L1260.3,1266.1" stroke="#cbb7aa" stroke-width="3.2" opacity="0.19"/><path d="M1290.2,1223.7L1287.7,1291.1" stroke="#cbb7aa" stroke-width="4.0" opacity="0.26"/><path d="M1323.3,1288.3L1321.3,1342.7" stroke="#d8c8bc" stroke-width="3.5" opacity="0.21"/><path d="M1200.7,1195.6L1198.6,1251.5" stroke="#cbb7aa" stroke-width="3.6" opacity="0.15"/><path d="M1382.4,1386.9L1381.4,1415.0" stroke="#d2c2b6" stroke-width="3.7" opacity="0.15"/><path d="M1232.9,1243.5L1231.9,1272.5" stroke="#d8c8bc" stroke-width="4.1" opacity="0.29"/><path d="M1339.2,1325.3L1337.8,1363.7" stroke="#d8c8bc" stroke-width="4.2" opacity="0.14"/><path d="M1345.8,1319.7L1343.8,1373.5" stroke="#cbb7aa" stroke-width="3.2" opacity="0.15"/><path d="M1352.0,1349.7L1350.6,1387.7" stroke="#d8c8bc" stroke-width="2.7" opacity="0.23"/><path d="M1225.6,1200.4L1223.2,1264.4" stroke="#d2c2b6" stroke-width="3.3" opacity="0.30"/><path d="M1199.7,1228.3L1198.8,1255.2" stroke="#d2c2b6" stroke-width="3.4" opacity="0.26"/><path d="M1237.1,1226.8L1236.0,1260.3" stroke="#cbb7aa" stroke-width="4.5" opacity="0.20"/><path d="M1392.6,1388.3L1391.1,1428.3" stroke="#d8c8bc" stroke-width="2.2" opacity="0.24"/><path d="M1240.4,1193.6L1237.8,1260.3" stroke="#d2c2b6" stroke-width="3.8" opacity="0.13"/><path d="M1245.6,1217.5L1244.1,1260.1" stroke="#d8c8bc" stroke-width="2.1" opacity="0.24"/><path d="M1407.1,1389.7L1405.7,1430.4" stroke="#d8c8bc" stroke-width="4.0" opacity="0.21"/><path d="M1230.0,1195.0L1227.1,1270.8" stroke="#cbb7aa" stroke-width="4.0" opacity="0.13"/><path d="M1246.9,1208.0L1245.0,1260.1" stroke="#d8c8bc" stroke-width="2.4" opacity="0.19"/><path d="M1219.0,1191.9L1216.1,1266.8" stroke="#d2c2b6" stroke-width="2.8" opacity="0.32"/><path d="M1208.4,1205.6L1206.5,1256.0" stroke="#cbb7aa" stroke-width="3.3" opacity="0.19"/><path d="M1211.6,1189.4L1209.4,1248.4" stroke="#d8c8bc" stroke-width="4.2" opacity="0.13"/></g>
<path d="M1128,1150 L1140,1250 L1152,1300" stroke="#6a3f2d" stroke-width="52" filter="url(#b8)" fill="none" opacity="0.9"/>
<path d="M1120,1300 L1185,1300 L1185,1350 L1120,1350Z" fill="#cdbcb0" opacity="0.5" filter="url(#b8)"/>
<path d="M1114.0,1208.0L1116.5,1350" stroke="#101218" stroke-width="1.4"/><path d="M1119.0,1216.0L1121.5,1350" stroke="#101218" stroke-width="1.0"/><path d="M1124.0,1208.0L1126.5,1350" stroke="#101218" stroke-width="1.3"/><path d="M1130.0,1230.0L1132.5,1350" stroke="#101218" stroke-width="1.1"/><path d="M1135.0,1228.0L1137.5,1350" stroke="#101218" stroke-width="1.3"/><path d="M1141.0,1262.0L1143.5,1350" stroke="#101218" stroke-width="1.0"/><path d="M1146.0,1250.0L1148.5,1350" stroke="#101218" stroke-width="1.2"/><path d="M1152.0,1248.0L1154.5,1350" stroke="#101218" stroke-width="1.2"/><path d="M1158.0,1270.0L1160.5,1350" stroke="#101218" stroke-width="1.0"/><path d="M1164.0,1262.0L1166.5,1350" stroke="#101218" stroke-width="1.2"/><path d="M1170.0,1262.0L1172.5,1350" stroke="#101218" stroke-width="1.0"/><path d="M1176.0,1270.0L1178.5,1350" stroke="#101218" stroke-width="1.0"/>
<path d="M1080,1000 L1500,1210 L1500,980 L1080,980Z" fill="#2a130c" opacity="0.5" filter="url(#b14)"/>
</g>
<path d="M1066,887 L1102,887 L1098,905 L1088,930 L1084,950 L1072,950Z" fill="url(#gEso)"/>
<path d="M1093.5,868 L1101,865 L1102,885 L1095,885Z" fill="#4b95dc"/>
<path d="M1076,982 L1092,982 L1100,1047 L1076,1047Z" fill="#40221a"/>
<path d="M1101.0,212.0C1101.9,226.7 1103.4,253.3 1105.0,275.0C1106.6,296.7 1106.4,292.2 1108.0,305.0C1109.6,317.8 1110.6,318.1 1112.0,330.0C1113.4,341.9 1113.1,339.7 1114.0,356.0C1114.9,372.3 1113.4,378.1 1116.0,400.0C1118.6,421.9 1119.4,426.7 1125.0,450.0C1130.6,473.3 1133.0,479.0 1140.0,500.0C1147.0,521.0 1151.5,516.0 1155.0,540.0C1158.5,564.0 1159.9,588.3 1155.0,603.0C1150.1,617.7 1139.1,604.9 1134.0,603.0C1128.9,601.1 1134.2,598.0 1133.0,595.0C1131.8,592.0 1132.0,592.3 1129.0,590.0C1126.0,587.7 1123.3,586.9 1120.0,585.0C1116.7,583.1 1116.4,584.1 1115.0,582.0C1113.6,579.9 1115.9,578.1 1114.0,576.0C1112.1,573.9 1111.0,573.9 1107.0,573.0C1103.0,572.1 1101.0,573.2 1097.0,572.0C1093.0,570.8 1093.5,568.0 1090.0,568.0C1086.5,568.0 1086.2,569.7 1082.0,572.0C1077.8,574.3 1076.7,574.3 1072.0,578.0C1067.3,581.7 1067.1,582.9 1062.0,588.0C1056.9,593.1 1054.0,606.5 1050.0,600.0C1046.0,593.5 1045.0,578.7 1045.0,560.0C1045.0,541.3 1047.7,537.5 1050.0,520.0C1052.3,502.5 1053.1,501.1 1055.0,485.0C1056.9,468.9 1057.3,465.0 1058.0,451.0C1058.7,437.0 1058.5,436.9 1058.0,425.0C1057.5,413.1 1057.4,411.7 1056.0,400.0C1054.6,388.3 1054.3,386.7 1052.0,375.0C1049.7,363.3 1048.3,367.5 1046.0,350.0C1043.7,332.5 1043.9,323.3 1042.0,300.0C1040.1,276.7 1039.2,270.5 1038.0,250.0C1036.8,229.5 1037.2,220.9 1037.0,212.0Q1037,204 1044,204L1094,204Q1101,204 1101,212Z" fill="url(#gTr)"/>
<g clip-path="url(#cTR)">
<g filter="url(#b1)"><rect x="1046.3" y="222.0" width="10" height="13" rx="4.5" fill="#efdcd4" opacity="0.6"/><rect x="1095.0" y="222.0" width="10" height="13" rx="4.5" fill="#efdcd4" opacity="0.5"/><rect x="1046.3" y="235.0" width="9" height="4" rx="2" fill="#c4a49c" opacity="0.45"/><rect x="1095.0" y="235.0" width="9" height="4" rx="2" fill="#c4a49c" opacity="0.45"/><rect x="1047.6" y="240.5" width="10" height="13" rx="4.5" fill="#efdcd4" opacity="0.6"/><rect x="1096.0" y="240.5" width="10" height="13" rx="4.5" fill="#efdcd4" opacity="0.5"/><rect x="1047.6" y="253.5" width="9" height="4" rx="2" fill="#c4a49c" opacity="0.45"/><rect x="1096.0" y="253.5" width="9" height="4" rx="2" fill="#c4a49c" opacity="0.45"/><rect x="1048.8" y="259.0" width="10" height="13" rx="4.5" fill="#efdcd4" opacity="0.6"/><rect x="1097.0" y="259.0" width="10" height="13" rx="4.5" fill="#efdcd4" opacity="0.5"/><rect x="1048.8" y="272.0" width="9" height="4" rx="2" fill="#c4a49c" opacity="0.45"/><rect x="1097.0" y="272.0" width="9" height="4" rx="2" fill="#c4a49c" opacity="0.45"/><rect x="1050.1" y="277.5" width="10" height="13" rx="4.5" fill="#efdcd4" opacity="0.6"/><rect x="1098.0" y="277.5" width="10" height="13" rx="4.5" fill="#efdcd4" opacity="0.5"/><rect x="1050.1" y="290.5" width="9" height="4" rx="2" fill="#c4a49c" opacity="0.45"/><rect x="1098.0" y="290.5" width="9" height="4" rx="2" fill="#c4a49c" opacity="0.45"/><rect x="1051.4" y="296.0" width="10" height="13" rx="4.5" fill="#efdcd4" opacity="0.6"/><rect x="1099.1" y="296.0" width="10" height="13" rx="4.5" fill="#efdcd4" opacity="0.5"/><rect x="1051.4" y="309.0" width="9" height="4" rx="2" fill="#c4a49c" opacity="0.45"/><rect x="1099.1" y="309.0" width="9" height="4" rx="2" fill="#c4a49c" opacity="0.45"/><rect x="1052.7" y="314.5" width="10" height="13" rx="4.5" fill="#efdcd4" opacity="0.6"/><rect x="1100.1" y="314.5" width="10" height="13" rx="4.5" fill="#efdcd4" opacity="0.5"/><rect x="1052.7" y="327.5" width="9" height="4" rx="2" fill="#c4a49c" opacity="0.45"/><rect x="1100.1" y="327.5" width="9" height="4" rx="2" fill="#c4a49c" opacity="0.45"/><rect x="1054.0" y="333.0" width="10" height="13" rx="4.5" fill="#efdcd4" opacity="0.6"/><rect x="1101.1" y="333.0" width="10" height="13" rx="4.5" fill="#efdcd4" opacity="0.5"/><rect x="1054.0" y="346.0" width="9" height="4" rx="2" fill="#c4a49c" opacity="0.45"/><rect x="1101.1" y="346.0" width="9" height="4" rx="2" fill="#c4a49c" opacity="0.45"/><rect x="1055.3" y="351.5" width="10" height="13" rx="4.5" fill="#efdcd4" opacity="0.6"/><rect x="1102.1" y="351.5" width="10" height="13" rx="4.5" fill="#efdcd4" opacity="0.5"/><rect x="1055.3" y="364.5" width="9" height="4" rx="2" fill="#c4a49c" opacity="0.45"/><rect x="1102.1" y="364.5" width="9" height="4" rx="2" fill="#c4a49c" opacity="0.45"/><rect x="1056.6" y="370.0" width="10" height="13" rx="4.5" fill="#efdcd4" opacity="0.6"/><rect x="1103.1" y="370.0" width="10" height="13" rx="4.5" fill="#efdcd4" opacity="0.5"/><rect x="1056.6" y="383.0" width="9" height="4" rx="2" fill="#c4a49c" opacity="0.45"/><rect x="1103.1" y="383.0" width="9" height="4" rx="2" fill="#c4a49c" opacity="0.45"/><rect x="1057.9" y="388.5" width="10" height="13" rx="4.5" fill="#efdcd4" opacity="0.6"/><rect x="1104.1" y="388.5" width="10" height="13" rx="4.5" fill="#efdcd4" opacity="0.5"/><rect x="1057.9" y="401.5" width="9" height="4" rx="2" fill="#c4a49c" opacity="0.45"/><rect x="1104.1" y="401.5" width="9" height="4" rx="2" fill="#c4a49c" opacity="0.45"/><rect x="1059.2" y="407.0" width="10" height="13" rx="4.5" fill="#efdcd4" opacity="0.6"/><rect x="1105.2" y="407.0" width="10" height="13" rx="4.5" fill="#efdcd4" opacity="0.5"/><rect x="1059.2" y="420.0" width="9" height="4" rx="2" fill="#c4a49c" opacity="0.45"/><rect x="1105.2" y="420.0" width="9" height="4" rx="2" fill="#c4a49c" opacity="0.45"/><rect x="1060.5" y="425.5" width="10" height="13" rx="4.5" fill="#efdcd4" opacity="0.6"/><rect x="1106.2" y="425.5" width="10" height="13" rx="4.5" fill="#efdcd4" opacity="0.5"/><rect x="1060.5" y="438.5" width="9" height="4" rx="2" fill="#c4a49c" opacity="0.45"/><rect x="1106.2" y="438.5" width="9" height="4" rx="2" fill="#c4a49c" opacity="0.45"/><rect x="1061.8" y="444.0" width="10" height="13" rx="4.5" fill="#efdcd4" opacity="0.6"/><rect x="1107.2" y="444.0" width="10" height="13" rx="4.5" fill="#efdcd4" opacity="0.5"/><rect x="1061.8" y="457.0" width="9" height="4" rx="2" fill="#c4a49c" opacity="0.45"/><rect x="1107.2" y="457.0" width="9" height="4" rx="2" fill="#c4a49c" opacity="0.45"/><rect x="1063.1" y="462.5" width="10" height="13" rx="4.5" fill="#efdcd4" opacity="0.6"/><rect x="1108.2" y="462.5" width="10" height="13" rx="4.5" fill="#efdcd4" opacity="0.5"/><rect x="1063.1" y="475.5" width="9" height="4" rx="2" fill="#c4a49c" opacity="0.45"/><rect x="1108.2" y="475.5" width="9" height="4" rx="2" fill="#c4a49c" opacity="0.45"/><rect x="1064.4" y="481.0" width="10" height="13" rx="4.5" fill="#efdcd4" opacity="0.6"/><rect x="1109.2" y="481.0" width="10" height="13" rx="4.5" fill="#efdcd4" opacity="0.5"/><rect x="1064.4" y="494.0" width="9" height="4" rx="2" fill="#c4a49c" opacity="0.45"/><rect x="1109.2" y="494.0" width="9" height="4" rx="2" fill="#c4a49c" opacity="0.45"/><rect x="1065.7" y="499.5" width="10" height="13" rx="4.5" fill="#efdcd4" opacity="0.6"/><rect x="1110.3" y="499.5" width="10" height="13" rx="4.5" fill="#efdcd4" opacity="0.5"/><rect x="1065.7" y="512.5" width="9" height="4" rx="2" fill="#c4a49c" opacity="0.45"/><rect x="1110.3" y="512.5" width="9" height="4" rx="2" fill="#c4a49c" opacity="0.45"/><rect x="1067.0" y="518.0" width="10" height="13" rx="4.5" fill="#efdcd4" opacity="0.6"/><rect x="1111.3" y="518.0" width="10" height="13" rx="4.5" fill="#efdcd4" opacity="0.5"/><rect x="1067.0" y="531.0" width="9" height="4" rx="2" fill="#c4a49c" opacity="0.45"/><rect x="1111.3" y="531.0" width="9" height="4" rx="2" fill="#c4a49c" opacity="0.45"/></g>
<rect x="1030" y="204" width="140" height="400" fill="url(#gTrV)"/>
</g>
<path d="M1040.0,396.0C1045.9,386.9 1046.7,392.8 1052.0,396.0C1057.3,399.2 1057.1,398.9 1060.0,408.0C1062.9,417.1 1061.7,416.1 1063.0,430.0C1064.3,443.9 1064.7,444.0 1065.0,460.0C1065.3,476.0 1065.1,474.0 1064.0,490.0C1062.9,506.0 1062.1,485.3 1061.0,520.0C1059.9,554.7 1060.3,553.3 1060.0,620.0C1059.7,686.7 1059.5,716.7 1060.0,770.0C1060.5,823.3 1060.1,793.3 1062.0,820.0C1063.9,846.7 1063.8,844.7 1067.0,870.0C1070.2,895.3 1070.5,893.7 1074.0,915.0C1077.5,936.3 1077.7,930.0 1080.0,950.0C1082.3,970.0 1081.7,968.7 1082.5,990.0C1083.3,1011.3 1083.0,1015.9 1083.0,1030.0C1083.0,1044.1 1084.1,1038.3 1082.5,1043.0C1080.9,1047.7 1081.4,1045.9 1077.0,1047.5C1072.6,1049.1 1071.9,1049.0 1066.0,1049.0C1060.1,1049.0 1059.5,1049.1 1055.0,1047.5C1050.5,1045.9 1053.0,1055.7 1049.0,1043.0C1045.0,1030.3 1045.1,1034.1 1040.0,1000.0C1034.9,965.9 1036.7,949.7 1030.0,915.0C1023.3,880.3 1020.9,895.3 1015.0,870.0C1009.1,844.7 1010.4,846.7 1008.0,820.0C1005.6,793.3 1006.5,850.0 1006.0,770.0C1005.5,690.0 1005.5,593.3 1006.0,520.0C1006.5,446.7 1004.8,509.7 1008.0,495.0C1011.2,480.3 1012.1,482.3 1018.0,465.0C1023.9,447.7 1024.1,448.4 1030.0,430.0C1035.9,411.6 1034.1,405.1 1040.0,396.0Z" fill="url(#gAorta)"/>
<path d="M1040.0,396.0C1045.9,386.9 1046.7,392.8 1052.0,396.0C1057.3,399.2 1057.1,398.9 1060.0,408.0C1062.9,417.1 1061.7,416.1 1063.0,430.0C1064.3,443.9 1064.7,444.0 1065.0,460.0C1065.3,476.0 1065.1,474.0 1064.0,490.0C1062.9,506.0 1062.1,485.3 1061.0,520.0C1059.9,554.7 1060.3,553.3 1060.0,620.0C1059.7,686.7 1059.5,716.7 1060.0,770.0C1060.5,823.3 1060.1,793.3 1062.0,820.0C1063.9,846.7 1063.8,844.7 1067.0,870.0C1070.2,895.3 1070.5,893.7 1074.0,915.0C1077.5,936.3 1077.7,930.0 1080.0,950.0C1082.3,970.0 1081.7,968.7 1082.5,990.0C1083.3,1011.3 1083.0,1015.9 1083.0,1030.0C1083.0,1044.1 1084.1,1038.3 1082.5,1043.0C1080.9,1047.7 1081.4,1045.9 1077.0,1047.5C1072.6,1049.1 1071.9,1049.0 1066.0,1049.0C1060.1,1049.0 1059.5,1049.1 1055.0,1047.5C1050.5,1045.9 1053.0,1055.7 1049.0,1043.0C1045.0,1030.3 1045.1,1034.1 1040.0,1000.0C1034.9,965.9 1036.7,949.7 1030.0,915.0C1023.3,880.3 1020.9,895.3 1015.0,870.0C1009.1,844.7 1010.4,846.7 1008.0,820.0C1005.6,793.3 1006.5,850.0 1006.0,770.0C1005.5,690.0 1005.5,593.3 1006.0,520.0C1006.5,446.7 1004.8,509.7 1008.0,495.0C1011.2,480.3 1012.1,482.3 1018.0,465.0C1023.9,447.7 1024.1,448.4 1030.0,430.0C1035.9,411.6 1034.1,405.1 1040.0,396.0Z" fill="url(#gAoV)"/>
<path d="M1038.4,382.5 L1053,387.5 L1057.4,423 L1053,420.4 L1037.8,401.5Z" fill="#3b7cc8"/>
<path d="M1038.4,382.5 L1053,387.5 L1053.6,394 L1038.2,389Z" fill="#5aa4e8"/>
<path d="M940.0,269.0C953.3,266.3 946.7,266.0 960.0,268.0C973.3,270.0 966.7,267.0 980.0,275.0C993.3,283.0 986.7,280.3 1000.0,292.0C1013.3,303.7 1009.3,298.3 1020.0,310.0C1030.7,321.7 1026.3,316.0 1032.0,327.0C1037.7,338.0 1035.0,332.0 1037.0,343.0C1039.0,354.0 1038.0,347.3 1038.0,360.0C1038.0,372.7 1038.0,367.7 1037.0,381.0C1036.0,394.3 1036.7,386.3 1035.0,400.0C1033.3,413.7 1034.7,407.0 1032.0,422.0C1029.3,437.0 1031.7,427.3 1027.0,445.0C1022.3,462.7 1022.0,456.7 1018.0,475.0C1014.0,493.3 1015.7,475.0 1015.0,500.0C1014.3,525.0 1015.3,510.0 1016.0,550.0C1016.7,590.0 1016.7,570.0 1017.0,620.0C1017.3,670.0 1017.0,650.0 1017.0,700.0C1017.0,750.0 1016.0,730.0 1017.0,770.0C1018.0,810.0 1017.3,796.7 1020.0,820.0C1022.7,843.3 1021.0,821.0 1025.0,840.0C1029.0,859.0 1027.0,852.0 1032.0,877.0C1037.0,902.0 1036.0,890.0 1040.0,915.0C1044.0,940.0 1042.3,927.0 1044.0,952.0C1045.7,977.0 1045.0,965.0 1045.0,990.0C1045.0,1015.0 1045.3,1008.7 1044.0,1027.0C1042.7,1045.3 1044.0,1034.0 1041.0,1045.0C1038.0,1056.0 1040.3,1049.3 1035.0,1060.0C1029.7,1070.7 1033.3,1065.3 1025.0,1077.0C1016.7,1088.7 1021.7,1084.0 1010.0,1095.0C998.3,1106.0 1005.0,1100.3 990.0,1110.0C975.0,1119.7 981.7,1115.0 965.0,1124.0C948.3,1133.0 956.7,1128.3 940.0,1137.0C923.3,1145.7 931.7,1141.0 915.0,1150.0C898.3,1159.0 906.7,1154.0 890.0,1164.0C873.3,1174.0 881.7,1171.0 865.0,1180.0C848.3,1189.0 856.7,1185.0 840.0,1191.0C823.3,1197.0 831.7,1191.3 815.0,1198.0C798.3,1204.7 806.7,1203.3 790.0,1211.0C773.3,1218.7 781.7,1215.3 765.0,1221.0C748.3,1226.7 754.3,1223.7 740.0,1228.0C725.7,1232.3 731.7,1233.7 722.0,1234.0C712.3,1234.3 719.3,1240.3 711.0,1229.0C702.7,1217.7 706.7,1226.3 697.0,1200.0C687.3,1173.7 689.3,1183.3 682.0,1150.0C674.7,1116.7 678.7,1128.3 675.0,1100.0C671.3,1071.7 674.3,1101.7 671.0,1065.0C667.7,1028.3 668.3,1040.0 665.0,990.0C661.7,940.0 663.0,955.0 661.0,915.0C659.0,875.0 659.7,901.7 659.0,870.0C658.3,838.3 657.3,853.3 659.0,820.0C660.7,786.7 659.7,803.3 664.0,770.0C668.3,736.7 665.7,753.3 672.0,720.0C678.3,686.7 673.7,703.3 683.0,670.0C692.3,636.7 688.3,653.3 700.0,620.0C711.7,586.7 706.3,601.7 718.0,570.0C729.7,538.3 723.7,550.0 735.0,525.0C746.3,500.0 738.0,520.0 752.0,495.0C766.0,470.0 760.3,481.7 777.0,450.0C793.7,418.3 784.3,431.7 802.0,400.0C819.7,368.3 810.7,383.3 830.0,355.0C849.3,326.7 840.0,336.7 860.0,315.0C880.0,293.3 870.0,303.0 890.0,290.0C910.0,277.0 903.3,283.0 920.0,276.0C936.7,269.0 926.7,271.7 940.0,269.0Z" fill="url(#gLL)"/><g clip-path="url(#cLL)"><path d="M940.0,269.0C953.3,266.3 946.7,266.0 960.0,268.0C973.3,270.0 966.7,267.0 980.0,275.0C993.3,283.0 986.7,280.3 1000.0,292.0C1013.3,303.7 1009.3,298.3 1020.0,310.0C1030.7,321.7 1026.3,316.0 1032.0,327.0C1037.7,338.0 1035.0,332.0 1037.0,343.0C1039.0,354.0 1038.0,347.3 1038.0,360.0C1038.0,372.7 1038.0,367.7 1037.0,381.0C1036.0,394.3 1036.7,386.3 1035.0,400.0C1033.3,413.7 1034.7,407.0 1032.0,422.0C1029.3,437.0 1031.7,427.3 1027.0,445.0C1022.3,462.7 1022.0,456.7 1018.0,475.0C1014.0,493.3 1015.7,475.0 1015.0,500.0C1014.3,525.0 1015.3,510.0 1016.0,550.0C1016.7,590.0 1016.7,570.0 1017.0,620.0C1017.3,670.0 1017.0,650.0 1017.0,700.0C1017.0,750.0 1016.0,730.0 1017.0,770.0C1018.0,810.0 1017.3,796.7 1020.0,820.0C1022.7,843.3 1021.0,821.0 1025.0,840.0C1029.0,859.0 1027.0,852.0 1032.0,877.0C1037.0,902.0 1036.0,890.0 1040.0,915.0C1044.0,940.0 1042.3,927.0 1044.0,952.0C1045.7,977.0 1045.0,965.0 1045.0,990.0C1045.0,1015.0 1045.3,1008.7 1044.0,1027.0C1042.7,1045.3 1044.0,1034.0 1041.0,1045.0C1038.0,1056.0 1040.3,1049.3 1035.0,1060.0C1029.7,1070.7 1033.3,1065.3 1025.0,1077.0C1016.7,1088.7 1021.7,1084.0 1010.0,1095.0C998.3,1106.0 1005.0,1100.3 990.0,1110.0C975.0,1119.7 981.7,1115.0 965.0,1124.0C948.3,1133.0 956.7,1128.3 940.0,1137.0C923.3,1145.7 931.7,1141.0 915.0,1150.0C898.3,1159.0 906.7,1154.0 890.0,1164.0C873.3,1174.0 881.7,1171.0 865.0,1180.0C848.3,1189.0 856.7,1185.0 840.0,1191.0C823.3,1197.0 831.7,1191.3 815.0,1198.0C798.3,1204.7 806.7,1203.3 790.0,1211.0C773.3,1218.7 781.7,1215.3 765.0,1221.0C748.3,1226.7 754.3,1223.7 740.0,1228.0C725.7,1232.3 731.7,1233.7 722.0,1234.0C712.3,1234.3 719.3,1240.3 711.0,1229.0C702.7,1217.7 706.7,1226.3 697.0,1200.0C687.3,1173.7 689.3,1183.3 682.0,1150.0C674.7,1116.7 678.7,1128.3 675.0,1100.0C671.3,1071.7 674.3,1101.7 671.0,1065.0C667.7,1028.3 668.3,1040.0 665.0,990.0C661.7,940.0 663.0,955.0 661.0,915.0C659.0,875.0 659.7,901.7 659.0,870.0C658.3,838.3 657.3,853.3 659.0,820.0C660.7,786.7 659.7,803.3 664.0,770.0C668.3,736.7 665.7,753.3 672.0,720.0C678.3,686.7 673.7,703.3 683.0,670.0C692.3,636.7 688.3,653.3 700.0,620.0C711.7,586.7 706.3,601.7 718.0,570.0C729.7,538.3 723.7,550.0 735.0,525.0C746.3,500.0 738.0,520.0 752.0,495.0C766.0,470.0 760.3,481.7 777.0,450.0C793.7,418.3 784.3,431.7 802.0,400.0C819.7,368.3 810.7,383.3 830.0,355.0C849.3,326.7 840.0,336.7 860.0,315.0C880.0,293.3 870.0,303.0 890.0,290.0C910.0,277.0 903.3,283.0 920.0,276.0C936.7,269.0 926.7,271.7 940.0,269.0Z" fill="none" stroke="#b58886" stroke-width="30" filter="url(#b14)" opacity="0.42"/><path d="M940.0,269.0C953.3,266.3 946.7,266.0 960.0,268.0C973.3,270.0 966.7,267.0 980.0,275.0C993.3,283.0 986.7,280.3 1000.0,292.0C1013.3,303.7 1009.3,298.3 1020.0,310.0C1030.7,321.7 1026.3,316.0 1032.0,327.0C1037.7,338.0 1035.0,332.0 1037.0,343.0C1039.0,354.0 1038.0,347.3 1038.0,360.0C1038.0,372.7 1038.0,367.7 1037.0,381.0C1036.0,394.3 1036.7,386.3 1035.0,400.0C1033.3,413.7 1034.7,407.0 1032.0,422.0C1029.3,437.0 1031.7,427.3 1027.0,445.0C1022.3,462.7 1022.0,456.7 1018.0,475.0C1014.0,493.3 1015.7,475.0 1015.0,500.0C1014.3,525.0 1015.3,510.0 1016.0,550.0C1016.7,590.0 1016.7,570.0 1017.0,620.0C1017.3,670.0 1017.0,650.0 1017.0,700.0C1017.0,750.0 1016.0,730.0 1017.0,770.0C1018.0,810.0 1017.3,796.7 1020.0,820.0C1022.7,843.3 1021.0,821.0 1025.0,840.0C1029.0,859.0 1027.0,852.0 1032.0,877.0C1037.0,902.0 1036.0,890.0 1040.0,915.0C1044.0,940.0 1042.3,927.0 1044.0,952.0C1045.7,977.0 1045.0,965.0 1045.0,990.0C1045.0,1015.0 1045.3,1008.7 1044.0,1027.0C1042.7,1045.3 1044.0,1034.0 1041.0,1045.0C1038.0,1056.0 1040.3,1049.3 1035.0,1060.0C1029.7,1070.7 1033.3,1065.3 1025.0,1077.0C1016.7,1088.7 1021.7,1084.0 1010.0,1095.0C998.3,1106.0 1005.0,1100.3 990.0,1110.0C975.0,1119.7 981.7,1115.0 965.0,1124.0C948.3,1133.0 956.7,1128.3 940.0,1137.0C923.3,1145.7 931.7,1141.0 915.0,1150.0C898.3,1159.0 906.7,1154.0 890.0,1164.0C873.3,1174.0 881.7,1171.0 865.0,1180.0C848.3,1189.0 856.7,1185.0 840.0,1191.0C823.3,1197.0 831.7,1191.3 815.0,1198.0C798.3,1204.7 806.7,1203.3 790.0,1211.0C773.3,1218.7 781.7,1215.3 765.0,1221.0C748.3,1226.7 754.3,1223.7 740.0,1228.0C725.7,1232.3 731.7,1233.7 722.0,1234.0C712.3,1234.3 719.3,1240.3 711.0,1229.0C702.7,1217.7 706.7,1226.3 697.0,1200.0C687.3,1173.7 689.3,1183.3 682.0,1150.0C674.7,1116.7 678.7,1128.3 675.0,1100.0C671.3,1071.7 674.3,1101.7 671.0,1065.0C667.7,1028.3 668.3,1040.0 665.0,990.0C661.7,940.0 663.0,955.0 661.0,915.0C659.0,875.0 659.7,901.7 659.0,870.0C658.3,838.3 657.3,853.3 659.0,820.0C660.7,786.7 659.7,803.3 664.0,770.0C668.3,736.7 665.7,753.3 672.0,720.0C678.3,686.7 673.7,703.3 683.0,670.0C692.3,636.7 688.3,653.3 700.0,620.0C711.7,586.7 706.3,601.7 718.0,570.0C729.7,538.3 723.7,550.0 735.0,525.0C746.3,500.0 738.0,520.0 752.0,495.0C766.0,470.0 760.3,481.7 777.0,450.0C793.7,418.3 784.3,431.7 802.0,400.0C819.7,368.3 810.7,383.3 830.0,355.0C849.3,326.7 840.0,336.7 860.0,315.0C880.0,293.3 870.0,303.0 890.0,290.0C910.0,277.0 903.3,283.0 920.0,276.0C936.7,269.0 926.7,271.7 940.0,269.0Z" fill="none" stroke="#a87a79" stroke-width="8" filter="url(#b4)" opacity="0.45"/><path d="M1040.0,330.0C1038.7,360.7 1043.3,365.3 1036.0,422.0C1028.7,478.7 1023.3,427.3 1018.0,500.0C1012.7,572.7 1019.3,550.0 1020.0,640.0C1020.7,730.0 1013.3,678.3 1020.0,770.0C1026.7,861.7 1030.7,841.7 1040.0,915.0C1049.3,988.3 1048.0,941.7 1048.0,990.0C1048.0,1038.3 1042.7,1036.7 1040.0,1060.0" fill="none" stroke="#c28684" stroke-width="60" filter="url(#b22)" opacity="0.6"/><ellipse cx="850" cy="640" rx="48" ry="190" transform="rotate(14 850 640)" fill="#e0c6c0" opacity="0.60" filter="url(#b22)"/><ellipse cx="930" cy="560" rx="38" ry="150" transform="rotate(16 930 560)" fill="#e0c6c0" opacity="0.55" filter="url(#b22)"/><ellipse cx="960" cy="360" rx="45" ry="70" transform="rotate(35 960 360)" fill="#e0c6c0" opacity="0.50" filter="url(#b22)"/><ellipse cx="840" cy="980" rx="110" ry="170" transform="rotate(0 840 980)" fill="#e0c6c0" opacity="0.20" filter="url(#b22)"/><ellipse cx="760" cy="760" rx="30" ry="120" transform="rotate(10 760 760)" fill="#e0c6c0" opacity="0.35" filter="url(#b22)"/><ellipse cx="890" cy="400" rx="60" ry="40" transform="rotate(-30 890 400)" fill="#e0c6c0" opacity="0.40" filter="url(#b22)"/><rect x="640" y="250" width="900" height="1000" filter="url(#texL)" opacity="0.45"/><g filter="url(#spec)" fill="#ecd8d3" opacity="0.62"><ellipse cx="815" cy="640" rx="24" ry="130" transform="rotate(8 815 640)"/><ellipse cx="880" cy="605" rx="30" ry="150" transform="rotate(12 880 605)"/><ellipse cx="935" cy="560" rx="22" ry="130" transform="rotate(10 935 560)"/><ellipse cx="955" cy="332" rx="32" ry="12" transform="rotate(-35 955 332)"/><ellipse cx="900" cy="410" rx="40" ry="14" transform="rotate(-30 900 410)"/></g><rect x="640" y="250" width="900" height="1000" filter="url(#texR)" opacity="0.28"/><path d="M1012.0,486.0C1003.0,479.3 1005.7,476.0 985.0,466.0C964.3,456.0 973.3,458.3 950.0,456.0C926.7,453.7 938.3,454.0 915.0,459.0C891.7,464.0 903.3,459.7 880.0,471.0C856.7,482.3 866.7,477.7 845.0,493.0C823.3,508.3 836.7,496.0 815.0,517.0C793.3,538.0 801.7,530.0 780.0,556.0C758.3,582.0 768.3,567.0 750.0,595.0C731.7,623.0 740.0,609.7 725.0,640.0C710.0,670.3 717.3,654.3 705.0,686.0C692.7,717.7 699.0,702.3 688.0,735.0C677.0,767.7 677.3,767.7 672.0,784.0" fill="none" stroke="#b98d8a" stroke-width="5" filter="url(#b2)" opacity="0.65"/><path d="M1012.0,486.0C1003.0,479.3 1005.7,476.0 985.0,466.0C964.3,456.0 973.3,458.3 950.0,456.0C926.7,453.7 938.3,454.0 915.0,459.0C891.7,464.0 903.3,459.7 880.0,471.0C856.7,482.3 866.7,477.7 845.0,493.0C823.3,508.3 836.7,496.0 815.0,517.0C793.3,538.0 801.7,530.0 780.0,556.0C758.3,582.0 768.3,567.0 750.0,595.0C731.7,623.0 740.0,609.7 725.0,640.0C710.0,670.3 717.3,654.3 705.0,686.0C692.7,717.7 699.0,702.3 688.0,735.0C677.0,767.7 677.3,767.7 672.0,784.0" fill="none" stroke="#e6cdc8" stroke-width="7" filter="url(#b4)" opacity="0.55" transform="translate(3,6)"/></g>
<path d="M1117.0,335.0C1120.7,320.7 1115.7,327.0 1125.0,317.0C1134.3,307.0 1130.0,311.7 1145.0,305.0C1160.0,298.3 1153.3,301.3 1170.0,297.0C1186.7,292.7 1180.0,293.3 1195.0,292.0C1210.0,290.7 1201.7,292.0 1215.0,293.0C1228.3,294.0 1220.0,292.0 1235.0,295.0C1250.0,298.0 1245.0,296.3 1260.0,302.0C1275.0,307.7 1268.3,304.3 1280.0,312.0C1291.7,319.7 1285.0,315.0 1295.0,325.0C1305.0,335.0 1300.0,330.3 1310.0,342.0C1320.0,353.7 1315.0,349.0 1325.0,360.0C1335.0,371.0 1330.0,364.3 1340.0,375.0C1350.0,385.7 1346.0,379.7 1355.0,392.0C1364.0,404.3 1358.0,396.0 1367.0,412.0C1376.0,428.0 1372.7,424.0 1382.0,440.0C1391.3,456.0 1385.7,446.7 1395.0,460.0C1404.3,473.3 1401.0,466.7 1410.0,480.0C1419.0,493.3 1413.7,485.0 1422.0,500.0C1430.3,515.0 1425.7,501.7 1435.0,525.0C1444.3,548.3 1438.3,541.7 1450.0,570.0C1461.7,598.3 1458.3,583.3 1470.0,610.0C1481.7,636.7 1476.0,621.7 1485.0,650.0C1494.0,678.3 1489.7,663.3 1497.0,695.0C1504.3,726.7 1501.0,711.7 1507.0,745.0C1513.0,778.3 1510.7,761.7 1515.0,795.0C1519.3,828.3 1516.7,813.3 1520.0,845.0C1523.3,876.7 1523.0,858.3 1525.0,890.0C1527.0,921.7 1526.3,906.7 1526.0,940.0C1525.7,973.3 1525.7,956.7 1524.0,990.0C1522.3,1023.3 1523.3,1006.7 1521.0,1040.0C1518.7,1073.3 1520.7,1056.7 1517.0,1090.0C1513.3,1123.3 1515.3,1111.7 1510.0,1140.0C1504.7,1168.3 1507.0,1157.0 1501.0,1175.0C1495.0,1193.0 1499.0,1185.7 1492.0,1194.0C1485.0,1202.3 1494.0,1200.3 1480.0,1200.0C1466.0,1199.7 1469.3,1199.0 1450.0,1193.0C1430.7,1187.0 1443.7,1191.3 1422.0,1182.0C1400.3,1172.7 1410.0,1177.3 1385.0,1165.0C1360.0,1152.7 1372.0,1157.7 1347.0,1145.0C1322.0,1132.3 1335.0,1138.7 1310.0,1127.0C1285.0,1115.3 1297.0,1122.3 1272.0,1110.0C1247.0,1097.7 1255.7,1101.0 1235.0,1090.0C1214.3,1079.0 1225.0,1085.0 1210.0,1077.0C1195.0,1069.0 1206.7,1072.7 1190.0,1066.0C1173.3,1059.3 1178.3,1064.0 1160.0,1057.0C1141.7,1050.0 1151.7,1055.0 1135.0,1045.0C1118.3,1035.0 1123.3,1038.7 1110.0,1027.0C1096.7,1015.3 1103.3,1024.0 1095.0,1010.0C1086.7,996.0 1089.7,1004.3 1085.0,985.0C1080.3,965.7 1081.0,975.3 1081.0,952.0C1081.0,928.7 1081.3,935.7 1085.0,915.0C1088.7,894.3 1086.3,906.7 1092.0,890.0C1097.7,873.3 1095.3,888.3 1102.0,865.0C1108.7,841.7 1106.0,851.7 1112.0,820.0C1118.0,788.3 1115.7,803.3 1120.0,770.0C1124.3,736.7 1122.7,753.3 1125.0,720.0C1127.3,686.7 1125.3,703.3 1127.0,670.0C1128.7,636.7 1127.0,646.0 1130.0,620.0C1133.0,594.0 1131.7,612.0 1136.0,592.0C1140.3,572.0 1140.0,582.3 1143.0,560.0C1146.0,537.7 1148.7,545.0 1145.0,525.0C1141.3,505.0 1141.3,525.0 1132.0,500.0C1122.7,475.0 1123.7,483.3 1117.0,450.0C1110.3,416.7 1113.0,430.0 1112.0,400.0C1111.0,370.0 1112.3,381.7 1114.0,360.0C1115.7,338.3 1113.3,349.3 1117.0,335.0Z" fill="url(#gRL)"/><g clip-path="url(#cRL)"><path d="M1117.0,335.0C1120.7,320.7 1115.7,327.0 1125.0,317.0C1134.3,307.0 1130.0,311.7 1145.0,305.0C1160.0,298.3 1153.3,301.3 1170.0,297.0C1186.7,292.7 1180.0,293.3 1195.0,292.0C1210.0,290.7 1201.7,292.0 1215.0,293.0C1228.3,294.0 1220.0,292.0 1235.0,295.0C1250.0,298.0 1245.0,296.3 1260.0,302.0C1275.0,307.7 1268.3,304.3 1280.0,312.0C1291.7,319.7 1285.0,315.0 1295.0,325.0C1305.0,335.0 1300.0,330.3 1310.0,342.0C1320.0,353.7 1315.0,349.0 1325.0,360.0C1335.0,371.0 1330.0,364.3 1340.0,375.0C1350.0,385.7 1346.0,379.7 1355.0,392.0C1364.0,404.3 1358.0,396.0 1367.0,412.0C1376.0,428.0 1372.7,424.0 1382.0,440.0C1391.3,456.0 1385.7,446.7 1395.0,460.0C1404.3,473.3 1401.0,466.7 1410.0,480.0C1419.0,493.3 1413.7,485.0 1422.0,500.0C1430.3,515.0 1425.7,501.7 1435.0,525.0C1444.3,548.3 1438.3,541.7 1450.0,570.0C1461.7,598.3 1458.3,583.3 1470.0,610.0C1481.7,636.7 1476.0,621.7 1485.0,650.0C1494.0,678.3 1489.7,663.3 1497.0,695.0C1504.3,726.7 1501.0,711.7 1507.0,745.0C1513.0,778.3 1510.7,761.7 1515.0,795.0C1519.3,828.3 1516.7,813.3 1520.0,845.0C1523.3,876.7 1523.0,858.3 1525.0,890.0C1527.0,921.7 1526.3,906.7 1526.0,940.0C1525.7,973.3 1525.7,956.7 1524.0,990.0C1522.3,1023.3 1523.3,1006.7 1521.0,1040.0C1518.7,1073.3 1520.7,1056.7 1517.0,1090.0C1513.3,1123.3 1515.3,1111.7 1510.0,1140.0C1504.7,1168.3 1507.0,1157.0 1501.0,1175.0C1495.0,1193.0 1499.0,1185.7 1492.0,1194.0C1485.0,1202.3 1494.0,1200.3 1480.0,1200.0C1466.0,1199.7 1469.3,1199.0 1450.0,1193.0C1430.7,1187.0 1443.7,1191.3 1422.0,1182.0C1400.3,1172.7 1410.0,1177.3 1385.0,1165.0C1360.0,1152.7 1372.0,1157.7 1347.0,1145.0C1322.0,1132.3 1335.0,1138.7 1310.0,1127.0C1285.0,1115.3 1297.0,1122.3 1272.0,1110.0C1247.0,1097.7 1255.7,1101.0 1235.0,1090.0C1214.3,1079.0 1225.0,1085.0 1210.0,1077.0C1195.0,1069.0 1206.7,1072.7 1190.0,1066.0C1173.3,1059.3 1178.3,1064.0 1160.0,1057.0C1141.7,1050.0 1151.7,1055.0 1135.0,1045.0C1118.3,1035.0 1123.3,1038.7 1110.0,1027.0C1096.7,1015.3 1103.3,1024.0 1095.0,1010.0C1086.7,996.0 1089.7,1004.3 1085.0,985.0C1080.3,965.7 1081.0,975.3 1081.0,952.0C1081.0,928.7 1081.3,935.7 1085.0,915.0C1088.7,894.3 1086.3,906.7 1092.0,890.0C1097.7,873.3 1095.3,888.3 1102.0,865.0C1108.7,841.7 1106.0,851.7 1112.0,820.0C1118.0,788.3 1115.7,803.3 1120.0,770.0C1124.3,736.7 1122.7,753.3 1125.0,720.0C1127.3,686.7 1125.3,703.3 1127.0,670.0C1128.7,636.7 1127.0,646.0 1130.0,620.0C1133.0,594.0 1131.7,612.0 1136.0,592.0C1140.3,572.0 1140.0,582.3 1143.0,560.0C1146.0,537.7 1148.7,545.0 1145.0,525.0C1141.3,505.0 1141.3,525.0 1132.0,500.0C1122.7,475.0 1123.7,483.3 1117.0,450.0C1110.3,416.7 1113.0,430.0 1112.0,400.0C1111.0,370.0 1112.3,381.7 1114.0,360.0C1115.7,338.3 1113.3,349.3 1117.0,335.0Z" fill="none" stroke="#b58886" stroke-width="30" filter="url(#b14)" opacity="0.42"/><path d="M1117.0,335.0C1120.7,320.7 1115.7,327.0 1125.0,317.0C1134.3,307.0 1130.0,311.7 1145.0,305.0C1160.0,298.3 1153.3,301.3 1170.0,297.0C1186.7,292.7 1180.0,293.3 1195.0,292.0C1210.0,290.7 1201.7,292.0 1215.0,293.0C1228.3,294.0 1220.0,292.0 1235.0,295.0C1250.0,298.0 1245.0,296.3 1260.0,302.0C1275.0,307.7 1268.3,304.3 1280.0,312.0C1291.7,319.7 1285.0,315.0 1295.0,325.0C1305.0,335.0 1300.0,330.3 1310.0,342.0C1320.0,353.7 1315.0,349.0 1325.0,360.0C1335.0,371.0 1330.0,364.3 1340.0,375.0C1350.0,385.7 1346.0,379.7 1355.0,392.0C1364.0,404.3 1358.0,396.0 1367.0,412.0C1376.0,428.0 1372.7,424.0 1382.0,440.0C1391.3,456.0 1385.7,446.7 1395.0,460.0C1404.3,473.3 1401.0,466.7 1410.0,480.0C1419.0,493.3 1413.7,485.0 1422.0,500.0C1430.3,515.0 1425.7,501.7 1435.0,525.0C1444.3,548.3 1438.3,541.7 1450.0,570.0C1461.7,598.3 1458.3,583.3 1470.0,610.0C1481.7,636.7 1476.0,621.7 1485.0,650.0C1494.0,678.3 1489.7,663.3 1497.0,695.0C1504.3,726.7 1501.0,711.7 1507.0,745.0C1513.0,778.3 1510.7,761.7 1515.0,795.0C1519.3,828.3 1516.7,813.3 1520.0,845.0C1523.3,876.7 1523.0,858.3 1525.0,890.0C1527.0,921.7 1526.3,906.7 1526.0,940.0C1525.7,973.3 1525.7,956.7 1524.0,990.0C1522.3,1023.3 1523.3,1006.7 1521.0,1040.0C1518.7,1073.3 1520.7,1056.7 1517.0,1090.0C1513.3,1123.3 1515.3,1111.7 1510.0,1140.0C1504.7,1168.3 1507.0,1157.0 1501.0,1175.0C1495.0,1193.0 1499.0,1185.7 1492.0,1194.0C1485.0,1202.3 1494.0,1200.3 1480.0,1200.0C1466.0,1199.7 1469.3,1199.0 1450.0,1193.0C1430.7,1187.0 1443.7,1191.3 1422.0,1182.0C1400.3,1172.7 1410.0,1177.3 1385.0,1165.0C1360.0,1152.7 1372.0,1157.7 1347.0,1145.0C1322.0,1132.3 1335.0,1138.7 1310.0,1127.0C1285.0,1115.3 1297.0,1122.3 1272.0,1110.0C1247.0,1097.7 1255.7,1101.0 1235.0,1090.0C1214.3,1079.0 1225.0,1085.0 1210.0,1077.0C1195.0,1069.0 1206.7,1072.7 1190.0,1066.0C1173.3,1059.3 1178.3,1064.0 1160.0,1057.0C1141.7,1050.0 1151.7,1055.0 1135.0,1045.0C1118.3,1035.0 1123.3,1038.7 1110.0,1027.0C1096.7,1015.3 1103.3,1024.0 1095.0,1010.0C1086.7,996.0 1089.7,1004.3 1085.0,985.0C1080.3,965.7 1081.0,975.3 1081.0,952.0C1081.0,928.7 1081.3,935.7 1085.0,915.0C1088.7,894.3 1086.3,906.7 1092.0,890.0C1097.7,873.3 1095.3,888.3 1102.0,865.0C1108.7,841.7 1106.0,851.7 1112.0,820.0C1118.0,788.3 1115.7,803.3 1120.0,770.0C1124.3,736.7 1122.7,753.3 1125.0,720.0C1127.3,686.7 1125.3,703.3 1127.0,670.0C1128.7,636.7 1127.0,646.0 1130.0,620.0C1133.0,594.0 1131.7,612.0 1136.0,592.0C1140.3,572.0 1140.0,582.3 1143.0,560.0C1146.0,537.7 1148.7,545.0 1145.0,525.0C1141.3,505.0 1141.3,525.0 1132.0,500.0C1122.7,475.0 1123.7,483.3 1117.0,450.0C1110.3,416.7 1113.0,430.0 1112.0,400.0C1111.0,370.0 1112.3,381.7 1114.0,360.0C1115.7,338.3 1113.3,349.3 1117.0,335.0Z" fill="none" stroke="#a87a79" stroke-width="8" filter="url(#b4)" opacity="0.45"/><path d="M1112.0,330.0C1110.7,353.3 1098.7,335.0 1108.0,400.0C1117.3,465.0 1134.0,451.7 1140.0,525.0C1146.0,598.3 1132.3,555.0 1126.0,620.0C1119.7,685.0 1130.3,638.3 1121.0,720.0C1111.7,801.7 1112.3,787.7 1098.0,865.0C1083.7,942.3 1080.0,902.0 1078.0,952.0C1076.0,1002.0 1064.7,978.3 1092.0,1015.0C1119.3,1051.7 1137.3,1046.3 1160.0,1062.0" fill="none" stroke="#c28684" stroke-width="95" filter="url(#b22)" opacity="0.6"/><ellipse cx="1470" cy="800" rx="40" ry="330" transform="rotate(-6 1470 800)" fill="#e0c6c0" opacity="0.50" filter="url(#b22)"/><ellipse cx="1335" cy="700" rx="48" ry="230" transform="rotate(-14 1335 700)" fill="#e0c6c0" opacity="0.60" filter="url(#b22)"/><ellipse cx="1405" cy="800" rx="30" ry="180" transform="rotate(-10 1405 800)" fill="#e0c6c0" opacity="0.55" filter="url(#b22)"/><ellipse cx="1255" cy="560" rx="42" ry="130" transform="rotate(-20 1255 560)" fill="#e0c6c0" opacity="0.40" filter="url(#b22)"/><ellipse cx="1270" cy="400" rx="70" ry="55" transform="rotate(25 1270 400)" fill="#e0c6c0" opacity="0.50" filter="url(#b22)"/><ellipse cx="1330" cy="1000" rx="120" ry="120" transform="rotate(0 1330 1000)" fill="#e0c6c0" opacity="0.20" filter="url(#b22)"/><rect x="640" y="250" width="900" height="1000" filter="url(#texL)" opacity="0.45"/><g filter="url(#spec)" fill="#ecd8d3" opacity="0.62"><ellipse cx="1300" cy="640" rx="30" ry="170" transform="rotate(-15 1300 640)"/><ellipse cx="1392" cy="700" rx="24" ry="190" transform="rotate(-12 1392 700)"/><ellipse cx="1290" cy="400" rx="60" ry="22" transform="rotate(25 1290 400)"/><ellipse cx="1345" cy="480" rx="30" ry="60" transform="rotate(-30 1345 480)"/></g><rect x="640" y="250" width="900" height="1000" filter="url(#texR)" opacity="0.28"/><path d="M1145.0,514.0C1153.3,507.7 1151.7,505.7 1170.0,495.0C1188.3,484.3 1178.3,488.0 1200.0,482.0C1221.7,476.0 1211.0,477.0 1235.0,477.0C1259.0,477.0 1247.0,476.0 1272.0,482.0C1297.0,488.0 1285.0,485.7 1310.0,495.0C1335.0,504.3 1322.0,500.0 1347.0,510.0C1372.0,520.0 1360.0,514.3 1385.0,525.0C1410.0,535.7 1400.3,530.3 1422.0,542.0C1443.7,553.7 1440.7,554.0 1450.0,560.0" fill="none" stroke="#b98d8a" stroke-width="5" filter="url(#b2)" opacity="0.65"/><path d="M1145.0,514.0C1153.3,507.7 1151.7,505.7 1170.0,495.0C1188.3,484.3 1178.3,488.0 1200.0,482.0C1221.7,476.0 1211.0,477.0 1235.0,477.0C1259.0,477.0 1247.0,476.0 1272.0,482.0C1297.0,488.0 1285.0,485.7 1310.0,495.0C1335.0,504.3 1322.0,500.0 1347.0,510.0C1372.0,520.0 1360.0,514.3 1385.0,525.0C1410.0,535.7 1400.3,530.3 1422.0,542.0C1443.7,553.7 1440.7,554.0 1450.0,560.0" fill="none" stroke="#e6cdc8" stroke-width="7" filter="url(#b4)" opacity="0.55" transform="translate(-2,6)"/></g>
<path d="M1061.0,547.0C1066.0,548.5 1067.3,546.5 1076.0,551.5C1084.7,556.5 1081.7,556.5 1087.0,562.0C1092.3,567.5 1088.3,564.3 1092.0,568.0C1095.7,571.7 1092.7,567.7 1098.0,573.0C1103.3,578.3 1102.7,577.7 1108.0,584.0C1113.3,590.3 1108.3,586.3 1114.0,592.0C1119.7,597.7 1118.7,596.7 1125.0,601.0C1131.3,605.3 1130.3,603.7 1133.0,605.0" fill="none" stroke="#c7463f" stroke-width="1.6"/>
<path d="M1093.0,568.8C1100.3,569.0 1099.7,569.6 1115.0,569.5C1130.3,569.4 1131.0,568.8 1139.0,568.5" fill="none" stroke="#c7463f" stroke-width="1.4"/>
<path d="M1044.0,456.0C1047.0,460.7 1048.3,458.7 1053.0,470.0C1057.7,481.3 1055.3,477.3 1058.0,490.0C1060.7,502.7 1060.7,498.3 1061.0,508.0C1061.3,517.7 1059.7,515.3 1059.0,519.0" fill="none" stroke="#4f9be2" stroke-width="1.8" stroke-linecap="round"/>
<path d="M1060.0,549.0C1061.3,554.3 1061.0,552.7 1064.0,565.0C1067.0,577.3 1067.3,579.0 1069.0,586.0" fill="none" stroke="#4f9be2" stroke-width="1.8" stroke-linecap="round"/>
<path d="M1120.0,540.0C1121.7,545.7 1122.0,546.0 1125.0,557.0C1128.0,568.0 1126.7,562.3 1129.0,573.0C1131.3,583.7 1130.3,581.0 1132.0,589.0C1133.7,597.0 1133.3,594.3 1134.0,597.0" fill="none" stroke="#4f9be2" stroke-width="1.8" stroke-linecap="round"/>
<path d="M1033.0,556.0C1034.0,552.0 1033.0,551.0 1036.0,544.0C1039.0,537.0 1037.3,540.0 1042.0,535.0C1046.7,530.0 1044.3,532.0 1050.0,529.0C1055.7,526.0 1053.7,527.5 1059.0,526.0C1064.3,524.5 1063.7,525.0 1066.0,524.5" fill="none" stroke="#3f86d2" stroke-width="4.6" stroke-linecap="round" /><path d="M1033.0,556.0C1034.0,552.0 1033.0,551.0 1036.0,544.0C1039.0,537.0 1037.3,540.0 1042.0,535.0C1046.7,530.0 1044.3,532.0 1050.0,529.0C1055.7,526.0 1053.7,527.5 1059.0,526.0C1064.3,524.5 1063.7,525.0 1066.0,524.5" fill="none" stroke="#5aa4e8" stroke-width="2.4" stroke-linecap="round" transform="translate(-0.6,0)" />
<path d="M1035.0,420.0C1036.3,423.3 1036.3,423.7 1039.0,430.0C1041.7,436.3 1039.7,432.7 1043.0,439.0C1046.3,445.3 1047.0,445.7 1049.0,449.0" fill="none" stroke="#3f86d2" stroke-width="5.0" stroke-linecap="round" /><path d="M1035.0,420.0C1036.3,423.3 1036.3,423.7 1039.0,430.0C1041.7,436.3 1039.7,432.7 1043.0,439.0C1046.3,445.3 1047.0,445.7 1049.0,449.0" fill="none" stroke="#5aa4e8" stroke-width="2.8" stroke-linecap="round" transform="translate(-0.6,0)" />
<path d="M1003.0,306.0C1005.0,314.3 1005.3,314.3 1009.0,331.0C1012.7,347.7 1011.3,341.3 1014.0,356.0C1016.7,370.7 1015.3,362.3 1017.0,375.0C1018.7,387.7 1017.3,379.3 1019.0,394.0C1020.7,408.7 1020.0,404.3 1022.0,419.0C1024.0,433.7 1022.0,428.0 1025.0,438.0C1028.0,448.0 1025.7,444.0 1031.0,449.0C1036.3,454.0 1034.3,452.0 1041.0,453.0C1047.7,454.0 1046.7,453.3 1051.0,452.0C1055.3,450.7 1053.0,450.0 1054.0,449.0" fill="none" stroke="#3f86d2" stroke-width="7.0" stroke-linecap="round" /><path d="M1003.0,306.0C1005.0,314.3 1005.3,314.3 1009.0,331.0C1012.7,347.7 1011.3,341.3 1014.0,356.0C1016.7,370.7 1015.3,362.3 1017.0,375.0C1018.7,387.7 1017.3,379.3 1019.0,394.0C1020.7,408.7 1020.0,404.3 1022.0,419.0C1024.0,433.7 1022.0,428.0 1025.0,438.0C1028.0,448.0 1025.7,444.0 1031.0,449.0C1036.3,454.0 1034.3,452.0 1041.0,453.0C1047.7,454.0 1046.7,453.3 1051.0,452.0C1055.3,450.7 1053.0,450.0 1054.0,449.0" fill="none" stroke="#5aa4e8" stroke-width="4.8" stroke-linecap="round" transform="translate(-0.6,0)" />
<path d="M1002,303 L1006,318" stroke="#5aa4e8" stroke-width="3" stroke-linecap="round"/>
<path d="M1015.0,495.0C1017.3,501.3 1018.0,500.7 1022.0,514.0C1026.0,527.3 1024.3,520.7 1027.0,535.0C1029.7,549.3 1028.3,542.0 1030.0,557.0C1031.7,572.0 1031.0,565.7 1032.0,580.0C1033.0,594.3 1032.3,583.3 1033.0,600.0C1033.7,616.7 1033.0,606.7 1034.0,630.0C1035.0,653.3 1035.0,646.7 1036.0,670.0C1037.0,693.3 1036.3,686.0 1037.0,700.0C1037.7,714.0 1035.7,705.7 1038.0,712.0C1040.3,718.3 1038.3,716.7 1044.0,719.0C1049.7,721.3 1048.0,720.0 1055.0,719.0C1062.0,718.0 1053.3,720.7 1065.0,716.0C1076.7,711.3 1073.3,711.7 1090.0,705.0C1106.7,698.3 1098.3,700.3 1115.0,696.0C1131.7,691.7 1123.3,693.7 1140.0,692.0C1156.7,690.3 1156.7,691.3 1165.0,691.0" fill="none" stroke="#3f86d2" stroke-width="8.0" stroke-linecap="round" /><path d="M1015.0,495.0C1017.3,501.3 1018.0,500.7 1022.0,514.0C1026.0,527.3 1024.3,520.7 1027.0,535.0C1029.7,549.3 1028.3,542.0 1030.0,557.0C1031.7,572.0 1031.0,565.7 1032.0,580.0C1033.0,594.3 1032.3,583.3 1033.0,600.0C1033.7,616.7 1033.0,606.7 1034.0,630.0C1035.0,653.3 1035.0,646.7 1036.0,670.0C1037.0,693.3 1036.3,686.0 1037.0,700.0C1037.7,714.0 1035.7,705.7 1038.0,712.0C1040.3,718.3 1038.3,716.7 1044.0,719.0C1049.7,721.3 1048.0,720.0 1055.0,719.0C1062.0,718.0 1053.3,720.7 1065.0,716.0C1076.7,711.3 1073.3,711.7 1090.0,705.0C1106.7,698.3 1098.3,700.3 1115.0,696.0C1131.7,691.7 1123.3,693.7 1140.0,692.0C1156.7,690.3 1156.7,691.3 1165.0,691.0" fill="none" stroke="#5aa4e8" stroke-width="5.8" stroke-linecap="round" transform="translate(-0.6,0)" />
<path d="M1166.0,727.0C1157.3,728.0 1157.0,728.0 1140.0,730.0C1123.0,732.0 1131.7,730.3 1115.0,733.0C1098.3,735.7 1106.7,734.7 1090.0,738.0C1073.3,741.3 1078.3,738.7 1065.0,743.0C1051.7,747.3 1058.3,744.7 1050.0,751.0C1041.7,757.3 1045.0,753.3 1040.0,762.0C1035.0,770.7 1037.3,765.3 1035.0,777.0C1032.7,788.7 1033.3,782.7 1033.0,797.0C1032.7,811.3 1032.7,795.7 1034.0,820.0C1035.3,844.3 1034.3,846.7 1037.0,870.0C1039.7,893.3 1038.7,875.0 1042.0,890.0C1045.3,905.0 1044.0,894.3 1047.0,915.0C1050.0,935.7 1049.7,927.0 1051.0,952.0C1052.3,977.0 1051.3,965.0 1051.0,990.0C1050.7,1015.0 1051.7,1003.0 1050.0,1027.0C1048.3,1051.0 1048.0,1045.7 1046.0,1062.0C1044.0,1078.3 1044.7,1071.3 1044.0,1076.0" fill="none" stroke="#3f86d2" stroke-width="9.8" stroke-linecap="round" /><path d="M1166.0,727.0C1157.3,728.0 1157.0,728.0 1140.0,730.0C1123.0,732.0 1131.7,730.3 1115.0,733.0C1098.3,735.7 1106.7,734.7 1090.0,738.0C1073.3,741.3 1078.3,738.7 1065.0,743.0C1051.7,747.3 1058.3,744.7 1050.0,751.0C1041.7,757.3 1045.0,753.3 1040.0,762.0C1035.0,770.7 1037.3,765.3 1035.0,777.0C1032.7,788.7 1033.3,782.7 1033.0,797.0C1032.7,811.3 1032.7,795.7 1034.0,820.0C1035.3,844.3 1034.3,846.7 1037.0,870.0C1039.7,893.3 1038.7,875.0 1042.0,890.0C1045.3,905.0 1044.0,894.3 1047.0,915.0C1050.0,935.7 1049.7,927.0 1051.0,952.0C1052.3,977.0 1051.3,965.0 1051.0,990.0C1050.7,1015.0 1051.7,1003.0 1050.0,1027.0C1048.3,1051.0 1048.0,1045.7 1046.0,1062.0C1044.0,1078.3 1044.7,1071.3 1044.0,1076.0" fill="none" stroke="#5aa4e8" stroke-width="7.6" stroke-linecap="round" transform="translate(-0.6,0)" />
<path d="M1119.4,535.3L1120.9,536.1L1122.3,536.8L1123.4,537.3L1124.3,537.7L1125.3,538.2L1126.5,538.9L1128.3,540.0L1130.8,541.7L1133.4,543.3L1135.4,544.4L1136.7,545.0L1137.1,545.2L1137.1,545.0L1137.5,545.4L1138.7,546.5L1140.6,548.6L1142.5,550.7L1143.7,551.9L1144.2,552.3L1144.1,552.0L1144.2,552.1L1144.7,553.1L1145.6,555.1L1146.9,558.0L1148.1,560.8L1148.9,562.5L1149.3,563.3L1149.5,563.5L1149.6,564.0L1150.0,565.5L1150.5,567.9L1151.4,571.6L1152.3,575.2L1152.8,577.6L1153.2,579.1L1153.4,580.3L1153.6,581.7L1153.9,583.7L1154.4,586.7L1155.1,591.1L1155.8,595.4L1156.4,598.1L1156.8,599.8L1157.1,600.8L1157.3,601.6L1157.5,603.3L1157.8,606.5L1158.3,611.5L1158.7,616.7L1158.9,620.2L1159.0,622.5L1159.0,624.4L1159.0,626.6L1159.0,629.6L1159.1,634.0L1159.3,640.2L1159.5,646.1L1159.6,649.5L1159.7,651.4L1159.8,652.7L1159.8,654.2L1159.9,657.0L1160.0,662.0L1160.3,670.2L1160.5,678.6L1160.6,684.5L1160.7,688.9L1160.8,692.6L1160.8,696.7L1160.9,702.0L1161.0,709.5L1161.3,720.1L1161.5,730.5L1161.6,737.3L1161.7,741.8L1161.8,745.1L1161.8,748.5L1161.9,752.9L1162.0,759.8L1162.3,770.1L1162.5,780.5L1162.7,787.4L1162.9,791.9L1163.0,795.3L1163.1,798.5L1163.2,802.9L1163.2,809.7L1163.2,820.0L1163.2,830.4L1163.2,837.3L1163.1,842.0L1163.0,845.4L1162.9,848.8L1162.7,853.3L1162.5,859.9L1162.3,869.8L1162.0,879.6L1161.9,886.0L1161.7,890.0L1161.6,892.9L1161.5,895.8L1161.5,899.6L1161.4,905.7L1161.3,914.9L1161.1,924.3L1161.1,930.6L1161.0,934.9L1161.0,938.1L1161.0,941.3L1161.1,945.3L1161.1,951.2L1161.3,960.1L1161.4,968.9L1161.5,974.6L1161.5,978.3L1161.6,980.9L1161.7,983.4L1161.9,986.7L1162.0,992.0L1162.3,1000.2L1162.5,1008.6L1162.6,1014.4L1162.7,1018.4L1162.8,1021.4L1162.8,1024.3L1162.9,1027.8L1163.0,1032.9L1163.3,1040.2L1163.5,1047.8L1163.6,1053.3L1163.8,1057.3L1163.9,1060.3L1164.0,1062.5L1164.1,1064.6L1164.1,1067.0L1164.3,1070.2L1177.7,1069.8L1177.6,1066.6L1177.5,1064.1L1177.5,1062.0L1177.4,1059.7L1177.3,1056.9L1177.1,1052.9L1177.0,1047.4L1176.7,1039.8L1176.5,1032.5L1176.4,1027.5L1176.3,1024.0L1176.2,1021.1L1176.2,1018.1L1176.1,1014.1L1176.0,1008.3L1175.7,999.8L1175.5,991.6L1175.4,986.3L1175.2,982.8L1175.1,980.4L1175.0,977.9L1175.0,974.3L1174.9,968.7L1174.7,959.9L1174.6,951.1L1174.6,945.1L1174.5,941.2L1174.5,938.1L1174.5,935.0L1174.6,930.8L1174.6,924.5L1174.7,915.1L1174.9,905.8L1175.0,899.9L1175.0,896.1L1175.1,893.4L1175.2,890.5L1175.4,886.4L1175.5,880.0L1175.7,870.2L1176.0,860.3L1176.2,853.7L1176.4,849.3L1176.5,845.9L1176.6,842.3L1176.7,837.5L1176.7,830.4L1176.8,820.0L1176.7,809.6L1176.7,802.7L1176.6,798.2L1176.5,794.7L1176.4,791.4L1176.2,787.0L1176.0,780.2L1175.7,769.9L1175.5,759.5L1175.4,752.7L1175.3,748.2L1175.2,744.9L1175.2,741.5L1175.1,737.1L1175.0,730.2L1174.7,719.9L1174.5,709.2L1174.4,701.8L1174.3,696.5L1174.2,692.4L1174.2,688.6L1174.1,684.2L1174.0,678.3L1173.7,669.8L1173.5,661.7L1173.4,656.6L1173.3,653.7L1173.2,652.1L1173.2,650.8L1173.1,648.9L1173.0,645.6L1172.7,639.8L1172.6,633.6L1172.5,629.4L1172.5,626.6L1172.5,624.4L1172.5,622.1L1172.4,619.4L1172.1,615.7L1171.7,610.5L1171.3,605.3L1171.0,601.9L1170.8,599.7L1170.5,598.0L1170.3,596.7L1170.0,595.3L1169.6,592.9L1168.9,588.9L1168.3,584.7L1167.9,581.8L1167.7,579.8L1167.5,578.2L1167.2,576.6L1166.9,574.7L1166.4,572.1L1165.6,568.4L1164.8,564.8L1164.4,562.5L1164.2,561.0L1163.9,559.5L1163.5,558.0L1163.0,556.5L1162.2,554.7L1161.1,552.0L1160.1,549.3L1159.6,547.5L1159.1,546.1L1158.5,544.5L1157.5,542.7L1156.4,541.2L1155.2,539.7L1153.4,537.4L1151.6,535.1L1150.1,533.4L1148.7,531.9L1147.2,530.6L1145.9,529.6L1144.8,528.9L1143.4,528.0L1141.2,526.3L1138.6,524.5L1136.4,523.1L1134.5,521.9L1132.9,521.1L1131.7,520.4L1130.7,519.9L1129.8,519.4L1128.6,518.7Z" fill="#3f86d2" stroke="#3f86d2" stroke-width="0.6" stroke-linejoin="round"/>
<circle cx="1171" cy="1070" r="6.75" fill="#3f86d2"/>
<path d="M1119.3,534.3L1120.8,535.0L1122.1,535.7L1123.2,536.2L1124.2,536.6L1125.2,537.1L1126.5,537.9L1128.3,539.0L1130.8,540.7L1133.4,542.3L1135.3,543.4L1136.6,544.0L1137.0,544.2L1137.2,544.1L1137.7,544.5L1138.9,545.7L1140.8,547.8L1142.7,549.9L1143.9,551.1L1144.5,551.6L1144.5,551.5L1144.6,551.6L1145.1,552.7L1146.0,554.6L1147.3,557.5L1148.5,560.3L1149.3,562.0L1149.7,562.8L1149.9,563.2L1150.1,563.8L1150.5,565.2L1151.0,567.7L1151.9,571.3L1152.8,575.0L1153.3,577.4L1153.6,578.9L1153.9,580.1L1154.1,581.5L1154.4,583.6L1154.9,586.6L1155.6,590.9L1156.3,595.2L1156.9,597.9L1157.3,599.5L1157.6,600.5L1157.7,601.4L1158.0,603.2L1158.3,606.4L1158.8,611.4L1159.2,616.6L1159.4,620.1L1159.5,622.5L1159.5,624.4L1159.5,626.6L1159.5,629.6L1159.6,633.9L1159.8,640.2L1160.0,646.0L1160.1,649.5L1160.2,651.4L1160.3,652.6L1160.3,654.2L1160.4,657.0L1160.5,662.0L1160.8,670.1L1161.0,678.6L1161.1,684.5L1161.2,688.9L1161.3,692.6L1161.3,696.7L1161.4,702.0L1161.5,709.5L1161.8,720.1L1162.0,730.5L1162.1,737.3L1162.2,741.8L1162.3,745.1L1162.3,748.4L1162.4,752.9L1162.5,759.8L1162.8,770.1L1163.0,780.5L1163.2,787.4L1163.4,791.9L1163.5,795.2L1163.6,798.5L1163.7,802.9L1163.7,809.7L1163.8,820.0L1163.7,830.4L1163.7,837.4L1163.6,842.0L1163.5,845.4L1163.4,848.8L1163.2,853.3L1163.0,860.0L1162.8,869.9L1162.5,879.7L1162.4,886.0L1162.2,890.1L1162.1,892.9L1162.0,895.8L1162.0,899.7L1161.9,905.7L1161.8,914.9L1161.6,924.3L1161.6,930.6L1161.5,934.9L1161.5,938.1L1161.5,941.3L1161.6,945.3L1161.6,951.2L1161.8,960.1L1161.9,968.8L1162.0,974.6L1162.0,978.2L1162.1,980.8L1162.2,983.3L1162.4,986.7L1162.5,991.9L1162.8,1000.1L1163.0,1008.6L1163.1,1014.3L1163.2,1018.3L1163.3,1021.4L1163.3,1024.3L1163.4,1027.8L1163.5,1032.8L1163.8,1040.2L1164.0,1047.7L1164.1,1053.3L1164.3,1057.3L1164.4,1060.2L1164.5,1062.5L1164.6,1064.6L1164.6,1067.0L1164.8,1070.2L1175.8,1069.8L1175.7,1066.6L1175.6,1064.2L1175.6,1062.0L1175.5,1059.8L1175.4,1056.9L1175.2,1052.9L1175.1,1047.4L1174.8,1039.8L1174.6,1032.5L1174.5,1027.5L1174.4,1024.0L1174.3,1021.1L1174.3,1018.1L1174.2,1014.1L1174.1,1008.3L1173.8,999.9L1173.6,991.6L1173.5,986.3L1173.3,982.9L1173.2,980.4L1173.1,977.9L1173.1,974.3L1173.0,968.7L1172.8,959.9L1172.7,951.1L1172.7,945.2L1172.6,941.2L1172.6,938.1L1172.6,935.0L1172.7,930.8L1172.7,924.5L1172.8,915.1L1173.0,905.8L1173.1,899.9L1173.1,896.1L1173.2,893.3L1173.3,890.4L1173.5,886.3L1173.6,879.9L1173.8,870.1L1174.1,860.3L1174.3,853.7L1174.5,849.3L1174.6,845.8L1174.7,842.2L1174.8,837.5L1174.8,830.4L1174.8,820.0L1174.8,809.6L1174.8,802.8L1174.7,798.2L1174.6,794.8L1174.5,791.5L1174.3,787.0L1174.1,780.2L1173.8,769.9L1173.6,759.5L1173.5,752.7L1173.4,748.2L1173.3,744.9L1173.3,741.6L1173.2,737.1L1173.1,730.2L1172.8,719.9L1172.6,709.3L1172.5,701.8L1172.4,696.5L1172.3,692.4L1172.3,688.6L1172.2,684.3L1172.1,678.3L1171.8,669.9L1171.6,661.7L1171.5,656.7L1171.4,653.8L1171.3,652.1L1171.3,650.8L1171.2,649.0L1171.1,645.6L1170.8,639.8L1170.7,633.7L1170.6,629.5L1170.6,626.6L1170.6,624.4L1170.6,622.2L1170.5,619.5L1170.2,615.8L1169.8,610.6L1169.4,605.4L1169.2,602.0L1168.9,599.8L1168.7,598.2L1168.4,597.0L1168.1,595.5L1167.7,593.1L1167.0,589.1L1166.4,584.8L1166.0,581.9L1165.8,579.9L1165.6,578.4L1165.4,576.8L1165.0,574.9L1164.5,572.3L1163.7,568.7L1163.0,565.1L1162.6,562.8L1162.3,561.2L1162.1,559.8L1161.7,558.4L1161.2,557.0L1160.4,555.2L1159.3,552.5L1158.3,549.7L1157.7,547.9L1157.3,546.6L1156.7,545.0L1155.8,543.4L1154.8,542.0L1153.6,540.4L1151.8,538.2L1150.0,535.9L1148.6,534.2L1147.2,532.8L1145.8,531.6L1144.5,530.7L1143.5,529.9L1142.1,529.0L1139.8,527.3L1137.2,525.5L1135.0,524.1L1133.2,523.0L1131.7,522.1L1130.4,521.5L1129.4,520.9L1128.5,520.5L1127.3,519.7Z" fill="#5aa4e8" stroke="#5aa4e8" stroke-width="0.6" stroke-linejoin="round"/>
<circle cx="1170.3" cy="1070" r="5.5" fill="#5aa4e8"/>
<path d="M1114,525 C1113,517 1124,511.5 1134,513 C1140,514.5 1143.5,519 1144,524 C1138,531 1124,536 1117,533 C1115,531 1114,528 1114,525Z" fill="#4f98de"/>
<path d="M1116,522 C1118,516.5 1126,513.5 1134,515 C1139,516.5 1141,520 1141,523 C1134,519.5 1124,519.5 1116,522Z" fill="#6ab0ee"/>
<ellipse cx="1130" cy="522.5" rx="6.5" ry="3.4" transform="rotate(8 1130 522.5)" fill="#3274c4"/>
<circle cx="1013.5" cy="370.0" r="4.2" fill="#4f9be2"/><circle cx="1013.5" cy="370.0" r="2.9" fill="#1a47ad"/>
<circle cx="1022.0" cy="416.5" r="4.2" fill="#4f9be2"/><circle cx="1022.0" cy="416.5" r="2.9" fill="#1a47ad"/>
<circle cx="1025.0" cy="562.0" r="4.2" fill="#4f9be2"/><circle cx="1025.0" cy="562.0" r="2.9" fill="#1a47ad"/>
<circle cx="1031.0" cy="630.0" r="4.2" fill="#4f9be2"/><circle cx="1031.0" cy="630.0" r="2.9" fill="#1a47ad"/>
<circle cx="1029.0" cy="718.5" r="4.2" fill="#4f9be2"/><circle cx="1029.0" cy="718.5" r="2.9" fill="#1a47ad"/>
<circle cx="1031.0" cy="802.0" r="4.2" fill="#4f9be2"/><circle cx="1031.0" cy="802.0" r="2.9" fill="#1a47ad"/>
<circle cx="1038.5" cy="895.0" r="4.2" fill="#4f9be2"/><circle cx="1038.5" cy="895.0" r="2.9" fill="#1a47ad"/>
<circle cx="1044.5" cy="977.5" r="4.2" fill="#4f9be2"/><circle cx="1044.5" cy="977.5" r="2.9" fill="#1a47ad"/>
<circle cx="1041.5" cy="1072.0" r="4.2" fill="#4f9be2"/><circle cx="1041.5" cy="1072.0" r="2.9" fill="#1a47ad"/>
<circle cx="1156.0" cy="554.0" r="4.8" fill="#5aa4e8"/><circle cx="1156.0" cy="554.0" r="3.2" fill="#2f6fd0"/>
<circle cx="1164.5" cy="629.0" r="4.8" fill="#5aa4e8"/><circle cx="1164.5" cy="629.0" r="3.2" fill="#2f6fd0"/>
<circle cx="1170.0" cy="720.0" r="4.8" fill="#5aa4e8"/><circle cx="1170.0" cy="720.0" r="3.2" fill="#1a47ad"/>
<circle cx="1170.0" cy="797.0" r="4.8" fill="#5aa4e8"/><circle cx="1170.0" cy="797.0" r="3.2" fill="#2f6fd0"/>
<circle cx="1167.5" cy="891.0" r="4.8" fill="#5aa4e8"/><circle cx="1167.5" cy="891.0" r="3.2" fill="#1a47ad"/>
<circle cx="1167.5" cy="970.0" r="4.8" fill="#5aa4e8"/><circle cx="1167.5" cy="970.0" r="3.2" fill="#1a47ad"/>
<circle cx="1172.0" cy="1060.0" r="4.8" fill="#5aa4e8"/><circle cx="1172.0" cy="1060.0" r="3.2" fill="#2f6fd0"/>
<path d="M295.0,377.5L977.5,377.5L1022.5,421.0" fill="none" stroke="#ffffff" stroke-width="3.4" stroke-linejoin="miter"/>
<path d="M1845.0,280.5L1245.0,280.5L1034.0,490.5" fill="none" stroke="#ffffff" stroke-width="3.4" stroke-linejoin="miter"/>
<path d="M1845.0,547.5L1111.0,547.5L1091.0,569.0" fill="none" stroke="#ffffff" stroke-width="3.4" stroke-linejoin="miter"/>
<path d="M462.0,830.5L894.0,830.5L1035.0,689.0" fill="none" stroke="#ffffff" stroke-width="3.4" stroke-linejoin="miter"/>
<path d="M1860.0,887.0L1226.0,887.0L1170.0,831.0" fill="none" stroke="#ffffff" stroke-width="3.4" stroke-linejoin="miter"/>
<path d="M289.0,1254.5L728.0,1254.5L1047.0,936.0" fill="none" stroke="#ffffff" stroke-width="3.4" stroke-linejoin="miter"/>
<path d="M69.1,1479.2L76.9,1483.9L76.9,1546.6L69.1,1551.3L51.5,1540.9L51.5,1529.5L42.7,1524.3L42.7,1505.1L51.5,1499.9L51.5,1489.6ZM65.0,1483.9L69.6,1486.4L69.6,1490.3M65.0,1546.6L69.6,1544.0L69.6,1540.2M51.5,1499.9L60.8,1494.7L69.6,1499.6M51.5,1529.5L60.8,1534.7L69.4,1530.0M60.8,1505.1L69.1,1510.0L76.9,1505.7M60.8,1525.1L69.1,1520.3L76.9,1524.6M54.6,1498.2L54.6,1517.0L50.4,1519.8M42.7,1518.6L49.9,1514.5M93.7,1479.2L85.9,1483.9L85.9,1546.6L93.7,1551.3L111.3,1540.9L111.3,1529.5L120.1,1524.3L120.1,1505.1L111.3,1499.9L111.3,1489.6ZM97.8,1483.9L93.2,1486.4L93.2,1490.3M97.8,1546.6L93.2,1544.0L93.2,1540.2M111.3,1499.9L102.0,1494.7L93.2,1499.6M111.3,1529.5L102.0,1534.7L93.4,1530.0M102.0,1505.1L93.7,1510.0L85.9,1505.7M102.0,1525.1L93.7,1520.3L85.9,1524.6M108.2,1498.2L108.2,1517.0L112.4,1519.8M120.1,1518.6L112.9,1514.5" fill="none" stroke="#ffffff" stroke-width="3.1" stroke-linejoin="miter" stroke-linecap="butt"/>
<g font-family="'Liberation Sans', sans-serif">
<text x="770.0" y="101.0" font-size="61.0" font-weight="bold" fill="#ffffff" textLength="642.0" lengthAdjust="spacingAndGlyphs" >Bronchial circulation</text>
<text x="58.5" y="387.5" font-size="37.0" font-weight="normal" fill="#ffffff" textLength="216.0" lengthAdjust="spacingAndGlyphs" stroke="#ffffff" stroke-width="0.75">Left superior</text>
<text x="58.5" y="429.5" font-size="37.0" font-weight="normal" fill="#ffffff" textLength="270.0" lengthAdjust="spacingAndGlyphs" stroke="#ffffff" stroke-width="0.75">intercostal vein</text>
<text x="1848.0" y="289.0" font-size="37.0" font-weight="normal" fill="#ffffff" textLength="208.5" lengthAdjust="spacingAndGlyphs" stroke="#ffffff" stroke-width="0.75">Descending</text>
<text x="1848.0" y="331.0" font-size="37.0" font-weight="normal" fill="#ffffff" textLength="251.0" lengthAdjust="spacingAndGlyphs" stroke="#ffffff" stroke-width="0.75">thoracic aorta</text>
<text x="1845.5" y="562.0" font-size="37.0" font-weight="normal" fill="#ffffff" textLength="267.5" lengthAdjust="spacingAndGlyphs" stroke="#ffffff" stroke-width="0.75">Right bronchial</text>
<text x="1845.5" y="604.0" font-size="37.0" font-weight="normal" fill="#ffffff" textLength="104.5" lengthAdjust="spacingAndGlyphs" stroke="#ffffff" stroke-width="0.75">artery</text>
<text x="1861.0" y="900.0" font-size="37.0" font-weight="normal" fill="#ffffff" textLength="208.5" lengthAdjust="spacingAndGlyphs" stroke="#ffffff" stroke-width="0.75">Azygos vein</text>
<text x="58.3" y="838.5" font-size="37.0" font-weight="normal" fill="#ffffff" textLength="383.0" lengthAdjust="spacingAndGlyphs" stroke="#ffffff" stroke-width="0.75">Acessory hemiazygos</text>
<text x="58.3" y="881.0" font-size="37.0" font-weight="normal" fill="#ffffff" textLength="71.7" lengthAdjust="spacingAndGlyphs" stroke="#ffffff" stroke-width="0.75">vein</text>
<text x="61.0" y="1264.5" font-size="37.0" font-weight="normal" fill="#ffffff" textLength="214.5" lengthAdjust="spacingAndGlyphs" stroke="#ffffff" stroke-width="0.75">Hemiazygos</text>
<text x="61.0" y="1306.5" font-size="37.0" font-weight="normal" fill="#ffffff" textLength="71.7" lengthAdjust="spacingAndGlyphs" stroke="#ffffff" stroke-width="0.75">vein</text>
<text x="988.0" y="1530.0" font-size="37.0" font-weight="normal" fill="#ffffff" textLength="250.0" lengthAdjust="spacingAndGlyphs" stroke="#ffffff" stroke-width="0.75">Posterior view</text>
<text x="144.5" y="1527.0" font-size="31.0" font-weight="normal" fill="#ffffff" textLength="220.0" lengthAdjust="spacingAndGlyphs" >Anatomy.app</text>
<text transform="translate(2210,1256) rotate(-90)" font-size="24" fill="#a3a3a3" textLength="853" lengthAdjust="spacingAndGlyphs">Copyrights @ 2022 Anatomy Next, Inc. All rights reserved www.anatomy.app</text>
</g>
</svg>
</body></html>
